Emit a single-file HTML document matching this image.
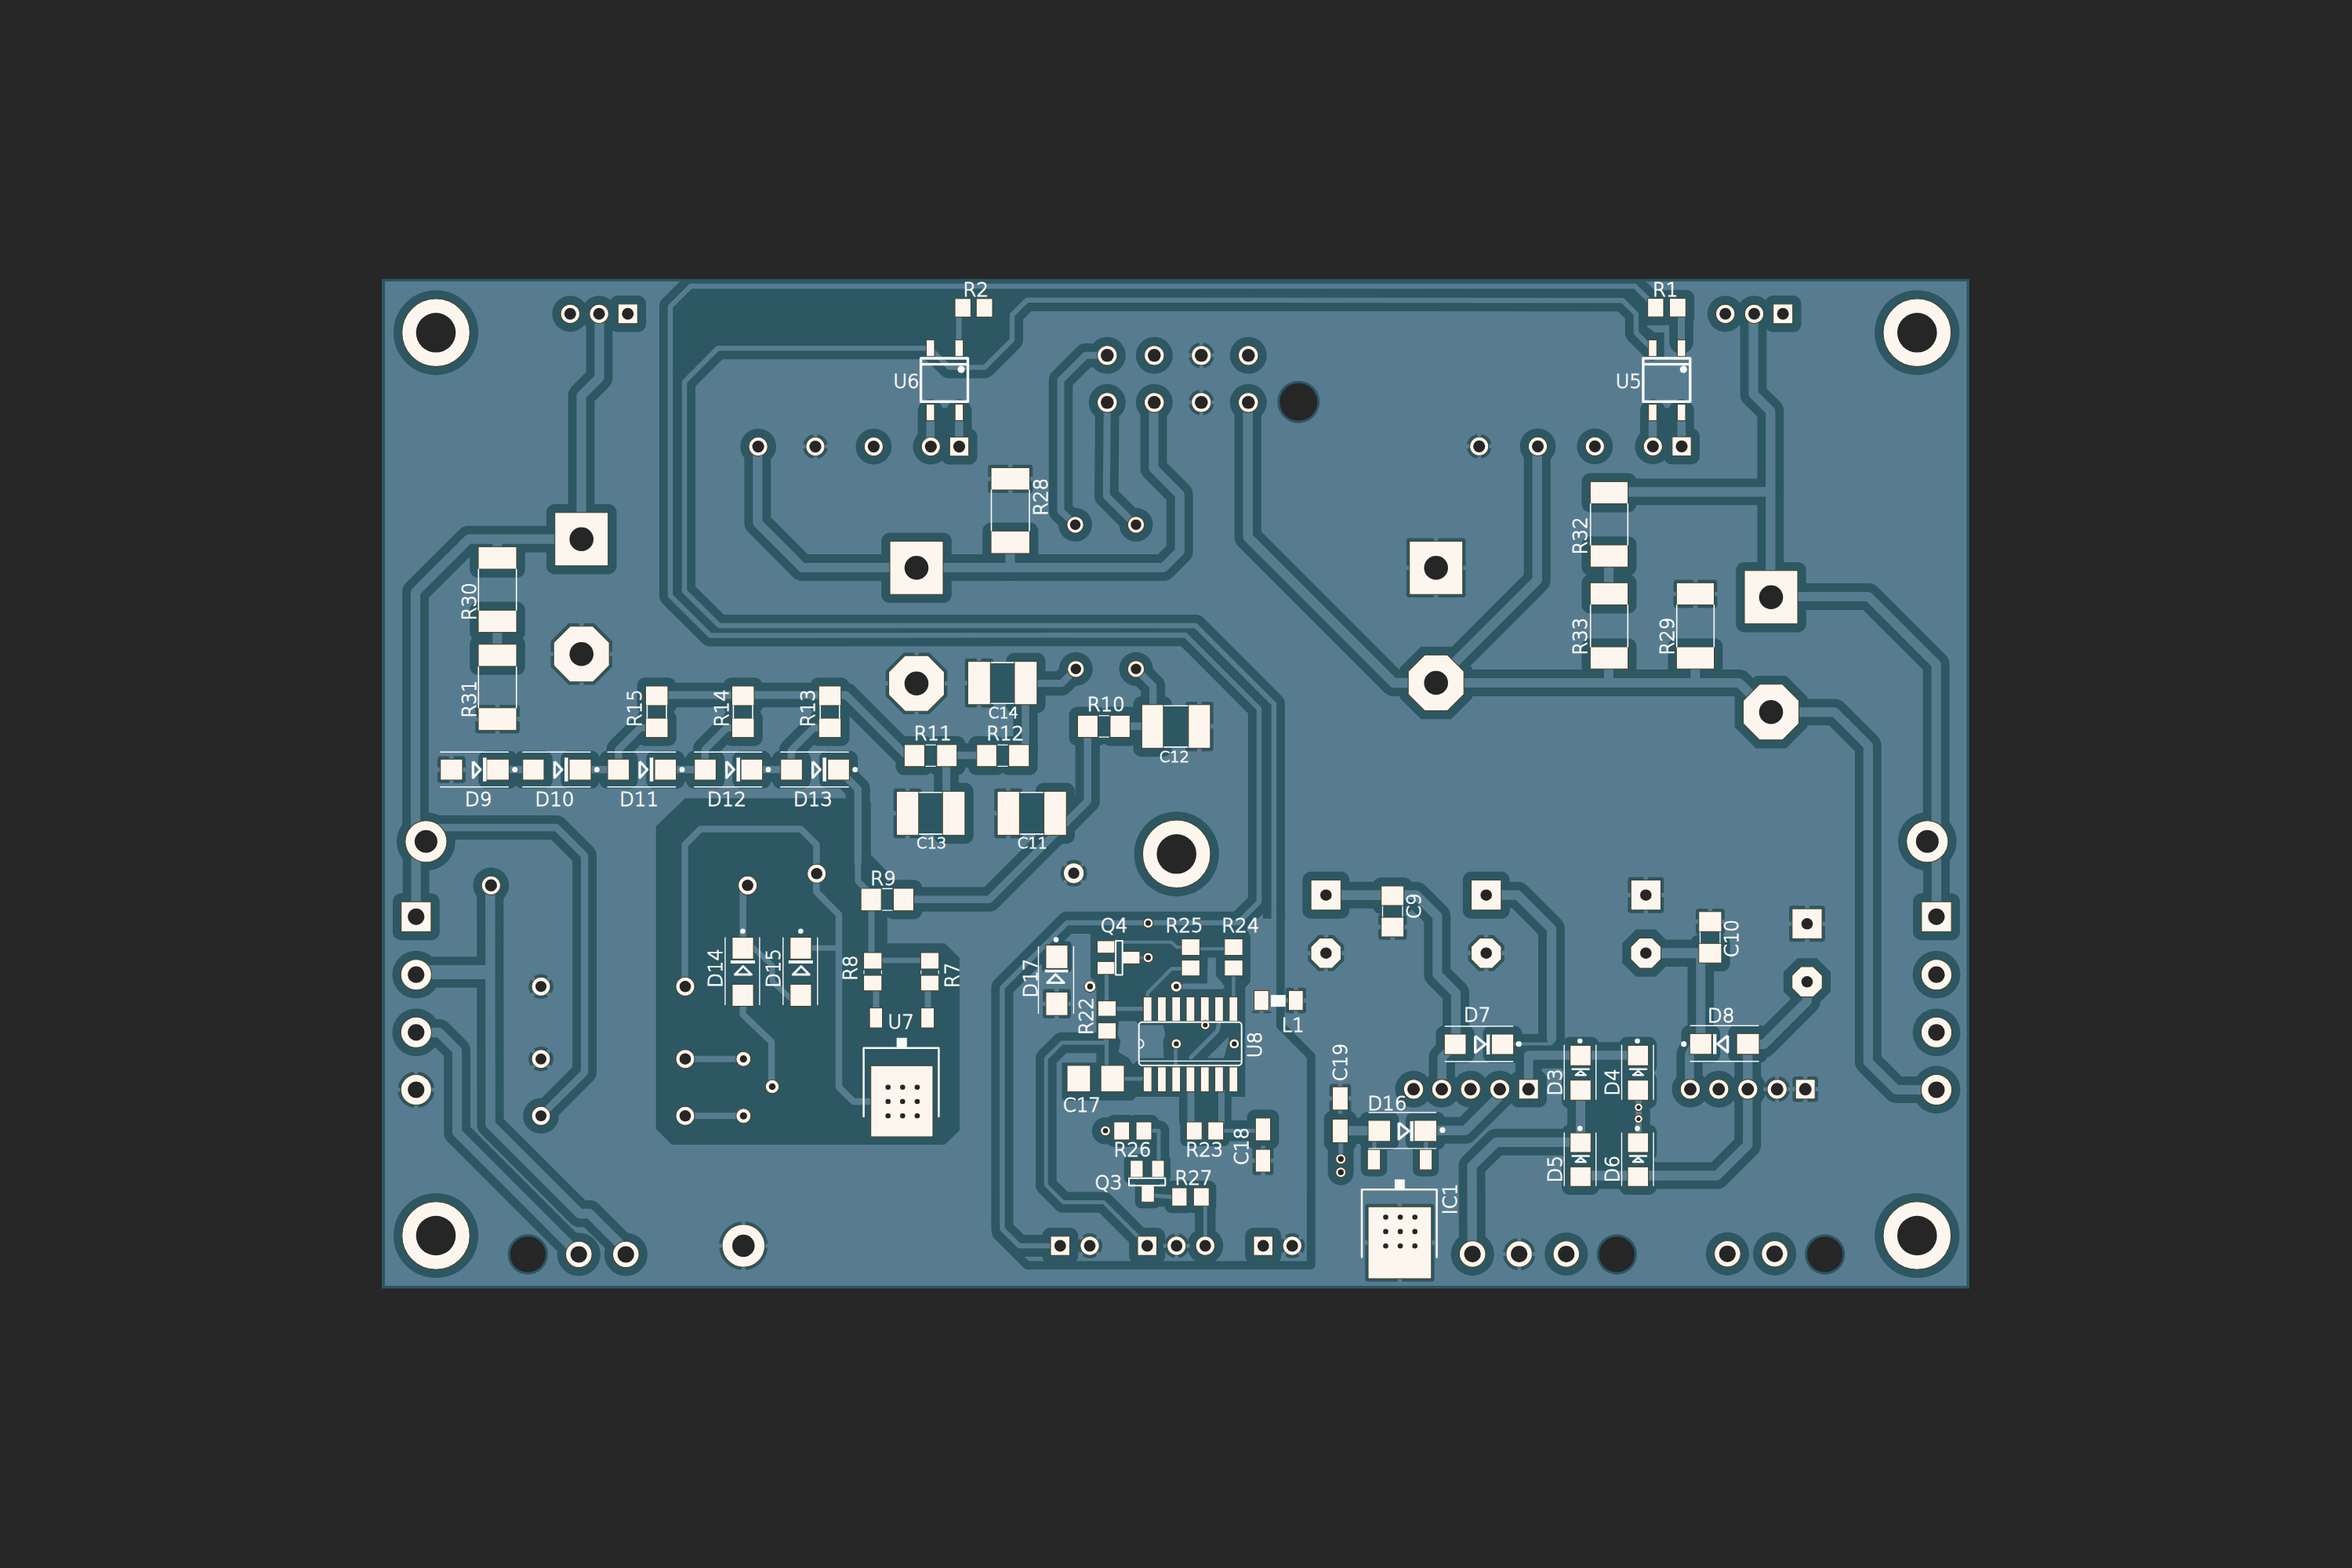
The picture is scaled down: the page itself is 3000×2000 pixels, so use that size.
<!DOCTYPE html>
<html><head><meta charset="utf-8"><title>PCB</title>
<style>html,body{margin:0;padding:0;background:#272727;}body{width:3000px;height:2000px;overflow:hidden;}svg{display:block;}</style>
</head><body>
<svg width="3000" height="2000" viewBox="0 0 3000 2000">
<rect width="3000" height="2000" fill="#272727"/>
<rect x="487" y="356" width="2025" height="1287.5" fill="#2c5763"/>
<rect x="491" y="359" width="2017.5" height="1281" fill="#587c8f"/>
<clipPath id="bd"><rect x="487" y="356" width="2025" height="1287.5"/></clipPath>
<g clip-path="url(#bd)">
<g fill="none" stroke="#2c5763" stroke-linecap="round" stroke-linejoin="round">
<circle cx="556" cy="424.3" r="54.1" stroke="none" fill="#2c5763"/>
<circle cx="2445.3" cy="424.3" r="54.1" stroke="none" fill="#2c5763"/>
<circle cx="556" cy="1576" r="54.1" stroke="none" fill="#2c5763"/>
<circle cx="2445.3" cy="1576" r="54.1" stroke="none" fill="#2c5763"/>
<circle cx="1500.7" cy="1089.3" r="54.1" stroke="none" fill="#2c5763"/>
<circle cx="727.3" cy="400.3" r="23" stroke="none" fill="#2c5763"/>
<circle cx="764.1" cy="400.3" r="23" stroke="none" fill="#2c5763"/>
<rect x="777.5" y="377" width="46.6" height="46.6" rx="10.8" stroke="none" fill="#2c5763"/>
<circle cx="2200.7" cy="400.3" r="23" stroke="none" fill="#2c5763"/>
<circle cx="2237.5" cy="400.3" r="23" stroke="none" fill="#2c5763"/>
<rect x="2250.9" y="377" width="46.6" height="46.6" rx="10.8" stroke="none" fill="#2c5763"/>
<rect x="696.9" y="642.9" width="89.6" height="89.6" rx="10.8" stroke="none" fill="#2c5763"/>
<rect x="1124.2" y="679.5" width="89.6" height="89.6" rx="10.8" stroke="none" fill="#2c5763"/>
<rect x="1793.9" y="686.5" width="75.6" height="75.6" rx="3.8" stroke="none" fill="#2c5763"/>
<rect x="2214.2" y="716.9" width="89.6" height="89.6" rx="10.8" stroke="none" fill="#2c5763"/>
<polygon points="725.4,795 758,795 781,818 781,850.6 758,873.6 725.4,873.6 702.4,850.6 702.4,818" stroke="none" fill="#2c5763"/>
<polygon points="1152.7,832.4 1185.3,832.4 1208.3,855.4 1208.3,888 1185.3,911 1152.7,911 1129.7,888 1129.7,855.4" stroke="none" fill="#2c5763"/>
<polygon points="1812.5,824.7 1850.9,824.7 1878,851.8 1878,890.2 1850.9,917.3 1812.5,917.3 1785.4,890.2 1785.4,851.8" stroke="none" fill="#2c5763"/>
<polygon points="2239.8,862 2278.2,862 2305.3,889.1 2305.3,927.5 2278.2,954.6 2239.8,954.6 2212.7,927.5 2212.7,889.1" stroke="none" fill="#2c5763"/>
<polyline points="764.5,400.3 764.5,481.7 741.5,504.7 741.5,687.7" stroke-width="33.8"/>
<polyline points="741.5,687.7 597.7,687.7 530,755.3 530,1060 543.4,1073.3" stroke-width="33.8"/>
<polyline points="530.6,1073 530.6,1169.3" stroke-width="33.8"/>
<polyline points="966.3,569.6 966.3,666.7 1023.3,724 1169,724" stroke-width="33.8"/>
<polyline points="1169,724 1484,724 1504.7,703.3 1504.7,630.7 1471.5,597.3 1471.5,513.3" stroke-width="33.8"/>
<polygon points="855,391 881,365 1330,365 1330,382.7 1310,382.7 1291,401.6 1291,433.5 1256,468.4 1210.5,468.4 1186,444.3 915.5,444.3 873,487 873,700 855,700" stroke="none" fill="#2c5763"/>
<polyline points="1352.3,1589 1300,1589 1278.4,1567.5 1278.4,1259.7 1361.2,1176.9 1579.6,1176.9 1606,1150.4 1606,904 1512,810 906,810.5 855,760 855,391 881,365 2085.2,365 2103,382.5 2110,392" stroke-width="28.1"/>
<polyline points="1624.9,1173 1624.9,897.9 1525,798 917.5,798 873,754 873,487 915.5,444.3 1186,444.3 1210.5,468.4 1256,468.4 1291,433.5 1291,401.6 1310,382.7 2069.6,383.3 2086.9,400.5 2086.9,424.6 2103.6,441.4 2107.4,446" stroke-width="28.1"/>
<circle cx="967.1" cy="569.6" r="22.9" stroke="none" fill="#2c5763"/>
<circle cx="1040" cy="569.6" r="15.9" stroke="none" fill="#2c5763"/>
<circle cx="1114.4" cy="569.6" r="22.9" stroke="none" fill="#2c5763"/>
<circle cx="1187.3" cy="569.6" r="22.9" stroke="none" fill="#2c5763"/>
<rect x="1200.5" y="546.6" width="46" height="46" rx="10.8" stroke="none" fill="#2c5763"/>
<circle cx="1886.7" cy="569.3" r="15.9" stroke="none" fill="#2c5763"/>
<circle cx="1961.5" cy="569.3" r="22.9" stroke="none" fill="#2c5763"/>
<circle cx="2034.3" cy="569.3" r="22.9" stroke="none" fill="#2c5763"/>
<circle cx="2108.3" cy="569.3" r="22.9" stroke="none" fill="#2c5763"/>
<rect x="2122" y="546.3" width="46" height="46" rx="10.8" stroke="none" fill="#2c5763"/>
<polyline points="1186.7,525 1186.7,569.6" stroke-width="32.2"/>
<polyline points="1223.4,525 1223.4,569.6" stroke-width="32.2"/>
<polyline points="1205,530 1205,560" stroke-width="20"/>
<polyline points="2108,525 2108,569.6" stroke-width="32.2"/>
<polyline points="2144.7,525 2144.7,569.6" stroke-width="32.2"/>
<polyline points="2126.3,530 2126.3,560" stroke-width="20"/>
<polygon points="2100,416 2111,424 2122.7,424 2122.7,456 2098,456 2098,416" stroke="none" fill="#2c5763"/>
<rect x="2090.8" y="369.7" width="42" height="45.3" rx="10.8" stroke="none" fill="#2c5763"/>
<rect x="2118.7" y="369.7" width="42.4" height="45.3" rx="10.8" stroke="none" fill="#2c5763"/>
<polyline points="2144.5,404 2144.5,436" stroke-width="30.6"/>
<rect x="1260.2" y="592.7" width="57.1" height="36.1" rx="3.8" stroke="none" fill="#2c5763"/>
<rect x="1253.2" y="666.5" width="71.1" height="50.3" rx="10.8" stroke="none" fill="#2c5763"/>
<polyline points="1288.5,700 1288.5,724" stroke-width="33.6"/>
<rect x="599.2" y="686.5" width="70.6" height="50.3" rx="10.8" stroke="none" fill="#2c5763"/>
<rect x="599.2" y="767.5" width="70.6" height="49.9" rx="10.8" stroke="none" fill="#2c5763"/>
<rect x="599.2" y="810.9" width="70.6" height="49.9" rx="10.8" stroke="none" fill="#2c5763"/>
<rect x="606.2" y="898.9" width="56.6" height="36.6" rx="3.8" stroke="none" fill="#2c5763"/>
<polyline points="634.3,793.3 634.3,836.7" stroke-width="33.6"/>
<polyline points="634.3,706.7 634.3,687.7" stroke-width="33.6"/>
<circle cx="1412.3" cy="453.3" r="23.5" stroke="none" fill="#2c5763"/>
<circle cx="1472.3" cy="453.3" r="23.5" stroke="none" fill="#2c5763"/>
<circle cx="1532.3" cy="453.3" r="16.5" stroke="none" fill="#2c5763"/>
<circle cx="1592.3" cy="453.3" r="23.5" stroke="none" fill="#2c5763"/>
<circle cx="1412.3" cy="513.3" r="23.5" stroke="none" fill="#2c5763"/>
<circle cx="1472.3" cy="513.3" r="23.5" stroke="none" fill="#2c5763"/>
<circle cx="1532.3" cy="513.3" r="16.5" stroke="none" fill="#2c5763"/>
<circle cx="1592.3" cy="513.3" r="23.5" stroke="none" fill="#2c5763"/>
<circle cx="1656.3" cy="512.7" r="27" stroke="none" fill="#2c5763"/>
<circle cx="1371.5" cy="669.3" r="21.5" stroke="none" fill="#2c5763"/>
<circle cx="1449" cy="669.3" r="21.5" stroke="none" fill="#2c5763"/>
<circle cx="1372.3" cy="853.3" r="21.5" stroke="none" fill="#2c5763"/>
<circle cx="1449" cy="853.3" r="21.5" stroke="none" fill="#2c5763"/>
<polyline points="1412.3,453.3 1384.7,453.3 1353,485 1353,651.7 1371.5,669.3" stroke-width="30.6"/>
<polyline points="1412.3,513.3 1411.3,632.7 1448,669.3" stroke-width="30.6"/>
<polyline points="1591.7,513.3 1591.7,685 1777.7,871 1831.7,871" stroke-width="34.1"/>
<polyline points="1960.7,569.3 1960.7,740 1831.7,869" stroke-width="34.1"/>
<polyline points="2236.5,400.3 2236.5,502.7 2258.3,524.3 2258.3,761.7" stroke-width="33.8"/>
<polyline points="2076.7,627.3 2258.3,627.3" stroke-width="33.8"/>
<polyline points="2259,761 2383.3,761 2469.7,847.4 2469.7,1060 2458.3,1073.3" stroke-width="33.8"/>
<polyline points="2470,1073 2470,1169.3" stroke-width="33.8"/>
<rect x="2017.5" y="603.5" width="69.9" height="49.9" rx="10.8" stroke="none" fill="#2c5763"/>
<rect x="2017.5" y="684.2" width="69.9" height="49.9" rx="10.8" stroke="none" fill="#2c5763"/>
<rect x="2017.5" y="732.5" width="69.9" height="49.9" rx="10.8" stroke="none" fill="#2c5763"/>
<rect x="2017.5" y="814.2" width="69.9" height="49.9" rx="10.8" stroke="none" fill="#2c5763"/>
<rect x="2134.5" y="739.5" width="55.9" height="35.9" rx="3.8" stroke="none" fill="#2c5763"/>
<rect x="2127.5" y="814.2" width="69.9" height="49.9" rx="10.8" stroke="none" fill="#2c5763"/>
<polyline points="2052,710 2052,756.7" stroke-width="33.6"/>
<polyline points="2052,840 2052,871" stroke-width="33.6"/>
<polyline points="2162.3,840 2162.3,871" stroke-width="33.6"/>
<polyline points="1831.7,871 2218.3,871 2255,907.7" stroke-width="33.8"/>
<polyline points="2259,908.3 2340,908.3 2382.8,951 2382.8,1354.3 2418.7,1390 2470,1390" stroke-width="33.8"/>
<circle cx="543.4" cy="1073.3" r="37.4" stroke="none" fill="#2c5763"/>
<circle cx="2458.3" cy="1073.3" r="37.4" stroke="none" fill="#2c5763"/>
<rect x="500.9" y="1139.4" width="59.8" height="59.8" rx="10.8" stroke="none" fill="#2c5763"/>
<circle cx="530.8" cy="1243.2" r="30.4" stroke="none" fill="#2c5763"/>
<circle cx="530.8" cy="1316.8" r="30.4" stroke="none" fill="#2c5763"/>
<rect x="2440.1" y="1139.4" width="59.8" height="59.8" rx="10.8" stroke="none" fill="#2c5763"/>
<circle cx="2470" cy="1243.2" r="30.4" stroke="none" fill="#2c5763"/>
<circle cx="2470" cy="1316.8" r="30.4" stroke="none" fill="#2c5763"/>
<circle cx="530.8" cy="1390" r="23.4" stroke="none" fill="#2c5763"/>
<circle cx="2470" cy="1390" r="30.4" stroke="none" fill="#2c5763"/>
<polyline points="543.4,1073.3 560,1055.5 709.6,1055.5 745.6,1091.5 745.6,1367.7 690,1423.3" stroke-width="30.9"/>
<circle cx="626.3" cy="1129.3" r="22.9" stroke="none" fill="#2c5763"/>
<polyline points="625.3,1129.3 625.5,1434.2 739.6,1548.1 752,1548.1 798.3,1594.4 798.3,1600" stroke-width="34.1"/>
<polyline points="531,1240 621,1240" stroke-width="39.6"/>
<polyline points="531,1316.8 560,1316.8 583.1,1340 583.1,1444.4 738.3,1599.6" stroke-width="33.8"/>
<circle cx="690" cy="1258.3" r="15.8" stroke="none" fill="#2c5763"/>
<circle cx="690" cy="1350.7" r="15.8" stroke="none" fill="#2c5763"/>
<circle cx="690" cy="1423.3" r="22.8" stroke="none" fill="#2c5763"/>
<circle cx="673.3" cy="1600" r="25.7" stroke="none" fill="#2c5763"/>
<circle cx="738.3" cy="1600" r="27.6" stroke="none" fill="#2c5763"/>
<circle cx="798.3" cy="1600" r="27.6" stroke="none" fill="#2c5763"/>
<circle cx="948.3" cy="1589" r="31.1" stroke="none" fill="#2c5763"/>
<rect x="812.6" y="864.2" width="50.2" height="46.6" rx="10.8" stroke="none" fill="#2c5763"/>
<rect x="812.6" y="905.2" width="50.2" height="46.3" rx="10.8" stroke="none" fill="#2c5763"/>
<rect x="922.6" y="864.2" width="50.2" height="46.6" rx="10.8" stroke="none" fill="#2c5763"/>
<rect x="922.6" y="905.2" width="50.2" height="46.3" rx="10.8" stroke="none" fill="#2c5763"/>
<rect x="1033.4" y="864.2" width="50.2" height="46.6" rx="10.8" stroke="none" fill="#2c5763"/>
<rect x="1033.4" y="905.2" width="50.2" height="46.3" rx="10.8" stroke="none" fill="#2c5763"/>
<polyline points="837,886.5 1079,886.5 1153.5,961 1166,963.7" stroke-width="31.6"/>
<polyline points="837.3,928.3 816.7,928.3 789,956 789,981.7" stroke-width="30.9"/>
<polyline points="947.7,928.3 927,928.3 899.3,956 899.3,981.7" stroke-width="30.9"/>
<polyline points="1058.7,928.3 1038,928.3 1009.3,957 1009.3,981.7" stroke-width="30.9"/>
<rect x="557.9" y="964.5" width="35.9" height="34.3" rx="3.8" stroke="none" fill="#2c5763"/>
<rect x="609.9" y="957.5" width="50.3" height="48.3" rx="10.8" stroke="none" fill="#2c5763"/>
<rect x="655.9" y="957.5" width="48.9" height="48.3" rx="10.8" stroke="none" fill="#2c5763"/>
<rect x="715.2" y="957.5" width="49.6" height="48.3" rx="10.8" stroke="none" fill="#2c5763"/>
<rect x="764.2" y="957.5" width="49.3" height="48.3" rx="10.8" stroke="none" fill="#2c5763"/>
<rect x="824.2" y="957.5" width="49.3" height="48.3" rx="10.8" stroke="none" fill="#2c5763"/>
<rect x="874.9" y="957.5" width="49.3" height="48.3" rx="10.8" stroke="none" fill="#2c5763"/>
<rect x="934.2" y="957.5" width="49.3" height="48.3" rx="10.8" stroke="none" fill="#2c5763"/>
<rect x="984.9" y="957.5" width="49.3" height="48.3" rx="10.8" stroke="none" fill="#2c5763"/>
<rect x="1044.9" y="957.5" width="49.3" height="48.3" rx="10.8" stroke="none" fill="#2c5763"/>
<polyline points="634,981.7 680,981.7" stroke-width="30.9"/>
<polyline points="739.3,981.7 788.3,981.7" stroke-width="30.9"/>
<polyline points="848.3,981.7 899,981.7" stroke-width="30.9"/>
<polyline points="958.3,981.7 1009,981.7" stroke-width="30.9"/>
<polyline points="1069.5,981.7 1094.3,1006.5 1094.3,1100" stroke-width="31.1"/>
<rect x="1142.5" y="938.9" width="47.8" height="49.7" rx="10.8" stroke="none" fill="#2c5763"/>
<rect x="1184" y="938.9" width="47.5" height="49.7" rx="10.8" stroke="none" fill="#2c5763"/>
<polyline points="1179.5,963.8 1194.8,963.8" stroke-width="26.1"/>
<rect x="1235" y="938.9" width="47.1" height="49.7" rx="10.8" stroke="none" fill="#2c5763"/>
<rect x="1275.8" y="938.9" width="47.8" height="49.7" rx="10.8" stroke="none" fill="#2c5763"/>
<polyline points="1271.3,963.8 1286.6,963.8" stroke-width="26.1"/>
<rect x="1363.6" y="901.5" width="47.6" height="49.9" rx="10.8" stroke="none" fill="#2c5763"/>
<rect x="1405.1" y="901.5" width="47.1" height="49.9" rx="10.8" stroke="none" fill="#2c5763"/>
<polyline points="1400.4,926.5 1415.9,926.5" stroke-width="26.3"/>
<rect x="1087.3" y="1122.2" width="47.7" height="50.3" rx="10.8" stroke="none" fill="#2c5763"/>
<rect x="1128.7" y="1122.2" width="47.6" height="50.3" rx="10.8" stroke="none" fill="#2c5763"/>
<polyline points="1124.2,1147.3 1139.5,1147.3" stroke-width="26.7"/>
<rect x="1230.6" y="839.8" width="36.5" height="62.8" rx="3.8" stroke="none" fill="#2c5763"/>
<rect x="1283.1" y="832.8" width="50.5" height="76.8" rx="10.8" stroke="none" fill="#2c5763"/>
<polyline points="1263.3,871.2 1293.9,871.2" stroke-width="53.2"/>
<rect x="1445.5" y="887.9" width="49.2" height="77.3" rx="10.8" stroke="none" fill="#2c5763"/>
<rect x="1512" y="894.9" width="35.7" height="63.3" rx="3.8" stroke="none" fill="#2c5763"/>
<polyline points="1483.9,926.5 1515.8,926.5" stroke-width="53.7"/>
<rect x="1139.6" y="1005.5" width="36" height="63.7" rx="3.8" stroke="none" fill="#2c5763"/>
<rect x="1191.4" y="998.5" width="50.3" height="77.7" rx="10.8" stroke="none" fill="#2c5763"/>
<polyline points="1171.8,1037.3 1202.2,1037.3" stroke-width="54.1"/>
<rect x="1268.2" y="1005.5" width="36" height="63.7" rx="3.8" stroke="none" fill="#2c5763"/>
<rect x="1320.7" y="998.5" width="50.3" height="77.7" rx="10.8" stroke="none" fill="#2c5763"/>
<polyline points="1300.4,1037.3 1331.5,1037.3" stroke-width="54.1"/>
<polyline points="1165.5,1147.2 1261.8,1147.2 1387.2,1021.8 1387.2,930" stroke-width="31.2"/>
<polyline points="1207,963.5 1258,963.5" stroke-width="31.2"/>
<polyline points="1207.1,965 1207.1,1020" stroke-width="31.6"/>
<polyline points="1430,926.3 1470,926.3" stroke-width="31.2"/>
<polyline points="1308,890 1308,960" stroke-width="31.2"/>
<polyline points="1372.3,853.3 1354,871.7 1310,871.7" stroke-width="30.9"/>
<polyline points="1449,853.3 1470.7,875 1470.7,910" stroke-width="30.9"/>
<circle cx="1369.6" cy="1113.8" r="17" stroke="none" fill="#2c5763"/>
<polygon points="836.7,1054 874,1018.3 1105,1018.3 1110.8,1024 1110.8,1090.5 1131.7,1111.4 1131.7,1203.3 1205,1203.3 1224,1221.7 1224,1441.7 1205,1460 856.7,1460 836.7,1440" stroke="none" fill="#2c5763"/>
<rect x="1661.3" y="1111.8" width="59.9" height="59.9" rx="10.8" stroke="none" fill="#2c5763"/>
<rect x="1865.8" y="1111.8" width="59.9" height="59.9" rx="10.8" stroke="none" fill="#2c5763"/>
<rect x="2076.3" y="1118.8" width="45.9" height="45.9" rx="3.8" stroke="none" fill="#2c5763"/>
<rect x="2282" y="1155.3" width="45.9" height="45.9" rx="3.8" stroke="none" fill="#2c5763"/>
<polygon points="1681.7,1192.6 1700.9,1192.6 1714.4,1206.1 1714.4,1225.3 1700.9,1238.8 1681.7,1238.8 1668.2,1225.3 1668.2,1206.1" stroke="none" fill="#2c5763"/>
<polygon points="1886.1,1192.6 1905.3,1192.6 1918.8,1206.1 1918.8,1225.3 1905.3,1238.8 1886.1,1238.8 1872.6,1225.3 1872.6,1206.1" stroke="none" fill="#2c5763"/>
<polygon points="2086.8,1185.6 2111.8,1185.6 2129.4,1203.2 2129.4,1228.2 2111.8,1245.8 2086.8,1245.8 2069.2,1228.2 2069.2,1203.2" stroke="none" fill="#2c5763"/>
<polygon points="2292.5,1222.2 2317.5,1222.2 2335.1,1239.8 2335.1,1264.8 2317.5,1282.4 2292.5,1282.4 2274.9,1264.8 2274.9,1239.8" stroke="none" fill="#2c5763"/>
<rect x="1750.9" y="1119.2" width="50.6" height="46.6" rx="10.8" stroke="none" fill="#2c5763"/>
<rect x="1757.9" y="1166.2" width="36.6" height="32.6" rx="3.8" stroke="none" fill="#2c5763"/>
<polyline points="1691.3,1141.7 1776,1141.7" stroke-width="34.1"/>
<polyline points="1776,1141.7 1806.3,1141.7 1833.3,1168.7 1833.3,1242.9 1857,1266.6 1857,1331.7" stroke-width="33.9"/>
<polyline points="1895.7,1141.7 1935.9,1141.7 1979,1184.8 1979,1325" stroke-width="33.8"/>
<polyline points="1979,1325 1979,1331.5 1930,1331.5" stroke-width="25.6"/>
<rect x="2162.9" y="1158.9" width="36.9" height="33.2" rx="3.8" stroke="none" fill="#2c5763"/>
<rect x="2155.9" y="1192.5" width="50.9" height="46.6" rx="10.8" stroke="none" fill="#2c5763"/>
<polyline points="2099.3,1215.7 2181,1215.7" stroke-width="34.6"/>
<polyline points="2169.3,1215 2169.3,1325" stroke-width="33.6"/>
<rect x="1831.5" y="1308.2" width="49.3" height="47.6" rx="10.8" stroke="none" fill="#2c5763"/>
<rect x="1891.5" y="1308.2" width="50" height="47.6" rx="10.8" stroke="none" fill="#2c5763"/>
<rect x="2144.4" y="1307.5" width="49.7" height="48.1" rx="10.8" stroke="none" fill="#2c5763"/>
<rect x="2204.3" y="1307.5" width="50.5" height="48.1" rx="10.8" stroke="none" fill="#2c5763"/>
<rect x="1734.2" y="1418.2" width="50.2" height="48.5" rx="10.8" stroke="none" fill="#2c5763"/>
<rect x="1792.9" y="1418.2" width="50.5" height="48.5" rx="10.8" stroke="none" fill="#2c5763"/>
<circle cx="1803" cy="1389.3" r="23.5" stroke="none" fill="#2c5763"/>
<circle cx="1839" cy="1389.3" r="23.5" stroke="none" fill="#2c5763"/>
<circle cx="1875.7" cy="1389.3" r="23.5" stroke="none" fill="#2c5763"/>
<circle cx="1913" cy="1389.3" r="23.5" stroke="none" fill="#2c5763"/>
<rect x="1926.4" y="1366" width="46.6" height="46.6" rx="10.8" stroke="none" fill="#2c5763"/>
<circle cx="2156" cy="1389.3" r="23.5" stroke="none" fill="#2c5763"/>
<circle cx="2192.3" cy="1389.3" r="23.5" stroke="none" fill="#2c5763"/>
<circle cx="2229.3" cy="1389.3" r="23.5" stroke="none" fill="#2c5763"/>
<circle cx="2266.7" cy="1389.3" r="16.5" stroke="none" fill="#2c5763"/>
<rect x="2286.4" y="1373" width="32.6" height="32.6" rx="3.8" stroke="none" fill="#2c5763"/>
<polyline points="1850,1338 1839.2,1349 1839.2,1389.3" stroke-width="33.3"/>
<polyline points="1819,1441.8 1869,1441.8 1913.4,1397.4 1913.4,1389.3" stroke-width="33.9"/>
<polyline points="2160,1335 2155,1345 2155,1389.3" stroke-width="33.3"/>
<polyline points="2229,1332 2250,1332 2305,1277 2305,1252.3" stroke-width="33.6"/>
<polyline points="2229.3,1340 2229.3,1460.3 2190,1499.5 2016,1499.5" stroke-width="33.9"/>
<rect x="1695.7" y="1382.4" width="27.6" height="37.3" rx="3.8" stroke="none" fill="#2c5763"/>
<rect x="1688.7" y="1416.7" width="41.6" height="51.7" rx="10.8" stroke="none" fill="#2c5763"/>
<polyline points="1709.5,1442.3 1760,1442.3" stroke-width="33.6"/>
<polyline points="1710.2,1470 1710.2,1495.3" stroke-width="33"/>
<rect x="1735.7" y="1457.6" width="33.5" height="43" rx="8.5" stroke="none" fill="#2c5763"/>
<rect x="1802" y="1457.6" width="33.2" height="43" rx="8.5" stroke="none" fill="#2c5763"/>
<polyline points="1753,1450 1753,1475" stroke-width="21"/>
<polyline points="1819,1450 1819,1475" stroke-width="21"/>
<rect x="1741.2" y="1535.4" width="88.4" height="99.4" rx="3.8" stroke="none" fill="#2c5763"/>
<circle cx="1878.2" cy="1599.6" r="27.6" stroke="none" fill="#2c5763"/>
<circle cx="1937.7" cy="1599.6" r="20.6" stroke="none" fill="#2c5763"/>
<circle cx="1997.8" cy="1599.6" r="27.6" stroke="none" fill="#2c5763"/>
<circle cx="2062.3" cy="1600" r="25.7" stroke="none" fill="#2c5763"/>
<circle cx="2203.4" cy="1599.3" r="27.6" stroke="none" fill="#2c5763"/>
<circle cx="2263.6" cy="1599.3" r="27.6" stroke="none" fill="#2c5763"/>
<circle cx="2327.7" cy="1600" r="25.7" stroke="none" fill="#2c5763"/>
<polyline points="1877.8,1600 1877.5,1487.4 1908.5,1456.8 2010,1456.8" stroke-width="33.9"/>
<rect x="1991.9" y="1322.5" width="48.2" height="47.6" rx="10.8" stroke="none" fill="#2c5763"/>
<rect x="1991.9" y="1366.9" width="48.2" height="47.2" rx="10.8" stroke="none" fill="#2c5763"/>
<rect x="1991.9" y="1434.2" width="48.2" height="46.6" rx="10.8" stroke="none" fill="#2c5763"/>
<rect x="1991.9" y="1477.5" width="48.2" height="46.6" rx="10.8" stroke="none" fill="#2c5763"/>
<rect x="2065.2" y="1322.5" width="48.2" height="47.6" rx="10.8" stroke="none" fill="#2c5763"/>
<rect x="2065.2" y="1366.9" width="48.2" height="47.2" rx="10.8" stroke="none" fill="#2c5763"/>
<rect x="2065.2" y="1434.2" width="48.2" height="46.6" rx="10.8" stroke="none" fill="#2c5763"/>
<rect x="2065.2" y="1477.5" width="48.2" height="46.6" rx="10.8" stroke="none" fill="#2c5763"/>
<polygon points="2029.8,1352 2076,1352 2076,1405 2104,1405 2104,1444 2076,1444 2076,1514 2029.8,1514 2029.8,1444 2003,1444 2003,1405 2029.8,1405" stroke="none" fill="#2c5763"/>
<polyline points="2016,1395 2016,1452" stroke-width="33.6"/>
<polyline points="2090,1395 2090,1452" stroke-width="29.6"/>
<polyline points="1949.7,1389.3 1949.7,1346 2089,1346" stroke-width="33.3"/>
<polyline points="1633.3,1160 1633.3,1308 1672.3,1347 1672.3,1613.8 1310,1613.8 1271.2,1575 1271.2,1560" stroke-width="10.8"/>
<polyline points="1411,1322 1411,1330 1354.5,1330 1334.3,1350 1334.3,1511.6 1356.2,1533.5 1407.8,1533.5 1463.3,1589" stroke-width="26.6"/>
<polygon points="1391,1186.8 1594.9,1186.8 1594.9,1252.3 1588.3,1259.7 1588.3,1399.1 1449,1399.1 1444.3,1403.8 1357.3,1403.8 1354.5,1401 1354.5,1355.2 1398.4,1355.2 1398.4,1254.1 1391,1246.6" stroke="none" fill="#2c5763"/>
<rect x="1328.9" y="1200.5" width="38.1" height="39.9" rx="5" stroke="none" fill="#2c5763"/>
<rect x="1330.1" y="1261.6" width="35.7" height="37.5" rx="3.8" stroke="none" fill="#2c5763"/>
<polyline points="1402.2,1300.5 1421.8,1300.5" stroke-width="8"/>
<polyline points="1500.4,1331.4 1500.4,1331.6" stroke-width="34"/>
<rect x="1595.8" y="1259.7" width="26.3" height="32.9" rx="3.8" stroke="none" fill="#2c5763"/>
<rect x="1639.7" y="1259.7" width="26.3" height="32.9" rx="3.8" stroke="none" fill="#2c5763"/>
<polygon points="1504,1390 1570.7,1390 1570.7,1433.3 1504,1433.3" stroke="none" fill="#2c5763"/>
<rect x="1505.3" y="1423" width="36" height="39" rx="8" stroke="none" fill="#2c5763"/>
<rect x="1532.7" y="1423" width="36" height="39" rx="8" stroke="none" fill="#2c5763"/>
<polyline points="1560.7,1442.3 1601.3,1442.3" stroke-width="26.6"/>
<rect x="1590.5" y="1415.2" width="40.9" height="50.6" rx="10.8" stroke="none" fill="#2c5763"/>
<rect x="1597.5" y="1462.2" width="26.9" height="36.6" rx="3.8" stroke="none" fill="#2c5763"/>
<rect x="1411.7" y="1422" width="38" height="41" rx="9" stroke="none" fill="#2c5763"/>
<rect x="1440" y="1422" width="38" height="41" rx="9" stroke="none" fill="#2c5763"/>
<circle cx="1410" cy="1442.3" r="17.2" stroke="none" fill="#2c5763"/>
<polyline points="1469,1442.3 1478,1442.3 1478,1481.7" stroke-width="26.6"/>
<rect x="1433.7" y="1472" width="32.3" height="37.7" rx="8" stroke="none" fill="#2c5763"/>
<rect x="1461" y="1472" width="32" height="37.7" rx="8" stroke="none" fill="#2c5763"/>
<rect x="1447.7" y="1504.3" width="32.7" height="37" rx="8" stroke="none" fill="#2c5763"/>
<rect x="1485.7" y="1506" width="37.3" height="41.3" rx="9" stroke="none" fill="#2c5763"/>
<rect x="1513.3" y="1506" width="38" height="41.3" rx="9" stroke="none" fill="#2c5763"/>
<polyline points="1472.3,1525 1494.7,1526.7" stroke-width="26.6"/>
<polyline points="1537.3,1530 1537.3,1589" stroke-width="26.3"/>
<rect x="1329.2" y="1566" width="46.1" height="46.1" rx="10.8" stroke="none" fill="#2c5763"/>
<circle cx="1390" cy="1589" r="16" stroke="none" fill="#2c5763"/>
<rect x="1440.2" y="1566" width="46.1" height="46.1" rx="10.8" stroke="none" fill="#2c5763"/>
<circle cx="1500.7" cy="1589" r="16" stroke="none" fill="#2c5763"/>
<circle cx="1537.3" cy="1589" r="23" stroke="none" fill="#2c5763"/>
<rect x="1588.2" y="1566" width="46.1" height="46.1" rx="10.8" stroke="none" fill="#2c5763"/>
<circle cx="1648.3" cy="1589" r="16" stroke="none" fill="#2c5763"/>
</g>
<g fill="none" stroke="#587c8f" stroke-linecap="round" stroke-linejoin="round">
<line x1="1792.9" y1="724.3" x2="1870.5" y2="724.3" stroke-width="5.6" stroke-linecap="butt"/>
<line x1="1831.7" y1="685.5" x2="1831.7" y2="763.1" stroke-width="5.6" stroke-linecap="butt"/>
<line x1="701.2" y1="834.3" x2="782.2" y2="834.3" stroke-width="5.6" stroke-linecap="butt"/>
<line x1="741.7" y1="793.8" x2="741.7" y2="874.8" stroke-width="5.6" stroke-linecap="butt"/>
<line x1="1128.5" y1="871.7" x2="1209.5" y2="871.7" stroke-width="5.6" stroke-linecap="butt"/>
<line x1="1169" y1="831.2" x2="1169" y2="912.2" stroke-width="5.6" stroke-linecap="butt"/>
<polyline points="764.5,400.3 764.5,481.7 741.5,504.7 741.5,687.7" stroke-width="12.2"/>
<polyline points="741.5,687.7 597.7,687.7 530,755.3 530,1060 543.4,1073.3" stroke-width="12.2"/>
<polyline points="530.6,1073 530.6,1169.3" stroke-width="12.2"/>
<polyline points="966.3,569.6 966.3,666.7 1023.3,724 1169,724" stroke-width="12.2"/>
<polyline points="1169,724 1484,724 1504.7,703.3 1504.7,630.7 1471.5,597.3 1471.5,513.3" stroke-width="12.2"/>
<polyline points="1352.3,1589 1300,1589 1278.4,1567.5 1278.4,1259.7 1361.2,1176.9 1579.6,1176.9 1606,1150.4 1606,904 1512,810 906,810.5 855,760 855,391 881,365 2085.2,365 2103,382.5 2110,392" stroke-width="6.5"/>
<polyline points="1624.9,1173 1624.9,897.9 1525,798 917.5,798 873,754 873,487 915.5,444.3 1186,444.3 1210.5,468.4 1256,468.4 1291,433.5 1291,401.6 1310,382.7 2069.6,383.3 2086.9,400.5 2086.9,424.6 2103.6,441.4 2107.4,446" stroke-width="6.5"/>
<line x1="1023.1" y1="569.6" x2="1056.9" y2="569.6" stroke-width="5" stroke-linecap="butt"/>
<line x1="1040" y1="552.7" x2="1040" y2="586.5" stroke-width="5" stroke-linecap="butt"/>
<line x1="1869.8" y1="569.3" x2="1903.6" y2="569.3" stroke-width="5" stroke-linecap="butt"/>
<line x1="1886.7" y1="552.4" x2="1886.7" y2="586.2" stroke-width="5" stroke-linecap="butt"/>
<polyline points="1186.7,525 1186.7,569.6" stroke-width="10.6"/>
<polyline points="1223.4,525 1223.4,569.6" stroke-width="10.6"/>
<polyline points="2108,525 2108,569.6" stroke-width="10.6"/>
<polyline points="2144.7,525 2144.7,569.6" stroke-width="10.6"/>
<polyline points="1223,404 1223,436" stroke-width="7"/>
<polyline points="2144.5,404 2144.5,436" stroke-width="9"/>
<line x1="1259.2" y1="610.8" x2="1318.3" y2="610.8" stroke-width="5.6" stroke-linecap="butt"/>
<line x1="1288.8" y1="591.7" x2="1288.8" y2="629.8" stroke-width="5.6" stroke-linecap="butt"/>
<polyline points="1288.5,700 1288.5,724" stroke-width="12"/>
<line x1="605.2" y1="917.2" x2="663.8" y2="917.2" stroke-width="5.6" stroke-linecap="butt"/>
<line x1="634.5" y1="897.9" x2="634.5" y2="936.5" stroke-width="5.6" stroke-linecap="butt"/>
<polyline points="634.3,793.3 634.3,836.7" stroke-width="12"/>
<polyline points="634.3,706.7 634.3,687.7" stroke-width="12"/>
<line x1="1514.8" y1="453.3" x2="1549.8" y2="453.3" stroke-width="5" stroke-linecap="butt"/>
<line x1="1532.3" y1="435.8" x2="1532.3" y2="470.8" stroke-width="5" stroke-linecap="butt"/>
<line x1="1514.8" y1="513.3" x2="1549.8" y2="513.3" stroke-width="5" stroke-linecap="butt"/>
<line x1="1532.3" y1="495.8" x2="1532.3" y2="530.8" stroke-width="5" stroke-linecap="butt"/>
<polyline points="1412.3,453.3 1384.7,453.3 1353,485 1353,651.7 1371.5,669.3" stroke-width="9"/>
<polyline points="1412.3,513.3 1411.3,632.7 1448,669.3" stroke-width="9"/>
<polyline points="1591.7,513.3 1591.7,685 1777.7,871 1831.7,871" stroke-width="12.5"/>
<polyline points="1960.7,569.3 1960.7,740 1831.7,869" stroke-width="12.5"/>
<polyline points="2236.5,400.3 2236.5,502.7 2258.3,524.3 2258.3,761.7" stroke-width="12.2"/>
<polyline points="2076.7,627.3 2258.3,627.3" stroke-width="12.2"/>
<polyline points="2259,761 2383.3,761 2469.7,847.4 2469.7,1060 2458.3,1073.3" stroke-width="12.2"/>
<polyline points="2470,1073 2470,1169.3" stroke-width="12.2"/>
<line x1="2133.5" y1="757.5" x2="2191.5" y2="757.5" stroke-width="5.6" stroke-linecap="butt"/>
<line x1="2162.5" y1="738.5" x2="2162.5" y2="776.5" stroke-width="5.6" stroke-linecap="butt"/>
<polyline points="2052,710 2052,756.7" stroke-width="12"/>
<polyline points="2052,840 2052,871" stroke-width="12"/>
<polyline points="2162.3,840 2162.3,871" stroke-width="12"/>
<polyline points="1831.7,871 2218.3,871 2255,907.7" stroke-width="12.2"/>
<polyline points="2259,908.3 2340,908.3 2382.8,951 2382.8,1354.3 2418.7,1390 2470,1390" stroke-width="12.2"/>
<line x1="506.4" y1="1390" x2="555.2" y2="1390" stroke-width="5" stroke-linecap="butt"/>
<line x1="530.8" y1="1365.6" x2="530.8" y2="1414.4" stroke-width="5" stroke-linecap="butt"/>
<polyline points="543.4,1073.3 560,1055.5 709.6,1055.5 745.6,1091.5 745.6,1367.7 690,1423.3" stroke-width="9.3"/>
<polyline points="625.3,1129.3 625.5,1434.2 739.6,1548.1 752,1548.1 798.3,1594.4 798.3,1600" stroke-width="12.5"/>
<polyline points="531,1240 621,1240" stroke-width="18"/>
<polyline points="531,1316.8 560,1316.8 583.1,1340 583.1,1444.4 738.3,1599.6" stroke-width="12.2"/>
<line x1="678.1" y1="1246.4" x2="701.9" y2="1270.2" stroke-width="5" stroke-linecap="butt"/>
<line x1="678.1" y1="1270.2" x2="701.9" y2="1246.4" stroke-width="5" stroke-linecap="butt"/>
<line x1="678.1" y1="1338.8" x2="701.9" y2="1362.6" stroke-width="5" stroke-linecap="butt"/>
<line x1="678.1" y1="1362.6" x2="701.9" y2="1338.8" stroke-width="5" stroke-linecap="butt"/>
<line x1="916.2" y1="1589" x2="980.4" y2="1589" stroke-width="5" stroke-linecap="butt"/>
<line x1="948.3" y1="1556.9" x2="948.3" y2="1621.1" stroke-width="5" stroke-linecap="butt"/>
<polyline points="837,886.5 1079,886.5 1153.5,961 1166,963.7" stroke-width="10"/>
<polyline points="837.3,928.3 816.7,928.3 789,956 789,981.7" stroke-width="9.3"/>
<polyline points="947.7,928.3 927,928.3 899.3,956 899.3,981.7" stroke-width="9.3"/>
<polyline points="1058.7,928.3 1038,928.3 1009.3,957 1009.3,981.7" stroke-width="9.3"/>
<line x1="556.9" y1="981.7" x2="594.8" y2="981.7" stroke-width="5.6" stroke-linecap="butt"/>
<line x1="575.8" y1="963.5" x2="575.8" y2="999.8" stroke-width="5.6" stroke-linecap="butt"/>
<polyline points="634,981.7 680,981.7" stroke-width="9.3"/>
<polyline points="739.3,981.7 788.3,981.7" stroke-width="9.3"/>
<polyline points="848.3,981.7 899,981.7" stroke-width="9.3"/>
<polyline points="958.3,981.7 1009,981.7" stroke-width="9.3"/>
<polyline points="1069.5,981.7 1094.3,1006.5 1094.3,1100" stroke-width="9.5"/>
<polyline points="1094.3,1095 1094.3,1124 1104,1133.7 1111,1140" stroke-width="7.8"/>
<line x1="1229.6" y1="871.2" x2="1268.1" y2="871.2" stroke-width="5.6" stroke-linecap="butt"/>
<line x1="1248.8" y1="838.8" x2="1248.8" y2="903.6" stroke-width="5.6" stroke-linecap="butt"/>
<line x1="1511" y1="926.5" x2="1548.7" y2="926.5" stroke-width="5.6" stroke-linecap="butt"/>
<line x1="1529.8" y1="893.9" x2="1529.8" y2="959.2" stroke-width="5.6" stroke-linecap="butt"/>
<line x1="1138.6" y1="1037.3" x2="1176.6" y2="1037.3" stroke-width="5.6" stroke-linecap="butt"/>
<line x1="1157.6" y1="1004.5" x2="1157.6" y2="1070.2" stroke-width="5.6" stroke-linecap="butt"/>
<line x1="1267.2" y1="1037.3" x2="1305.2" y2="1037.3" stroke-width="5.6" stroke-linecap="butt"/>
<line x1="1286.2" y1="1004.5" x2="1286.2" y2="1070.2" stroke-width="5.6" stroke-linecap="butt"/>
<polyline points="1165.5,1147.2 1261.8,1147.2 1387.2,1021.8 1387.2,930" stroke-width="9.6"/>
<polyline points="1207,963.5 1258,963.5" stroke-width="9.6"/>
<polyline points="1207.1,965 1207.1,1020" stroke-width="10"/>
<polyline points="1430,926.3 1470,926.3" stroke-width="9.6"/>
<polyline points="1308,890 1308,960" stroke-width="9.6"/>
<polyline points="1372.3,853.3 1354,871.7 1310,871.7" stroke-width="9.3"/>
<polyline points="1449,853.3 1470.7,875 1470.7,910" stroke-width="9.3"/>
<line x1="1356.9" y1="1101.1" x2="1382.3" y2="1126.5" stroke-width="5" stroke-linecap="butt"/>
<line x1="1356.9" y1="1126.5" x2="1382.3" y2="1101.1" stroke-width="5" stroke-linecap="butt"/>
<polyline points="873.5,1258.3 873.5,1077.5 893.5,1057.5 1021.5,1057.5 1041.5,1077.5 1041.5,1112" stroke-width="8.5"/>
<polyline points="1041.3,1114.3 1041.3,1137.6 1070,1166.5 1070,1386.7 1088.5,1405 1112,1405" stroke-width="8.5"/>
<polyline points="1034,1209.3 1070,1209.3" stroke-width="7"/>
<polyline points="947.7,1129 947.7,1198" stroke-width="8.5"/>
<polyline points="961,1209 985,1231.2 985,1251.6 1008,1273" stroke-width="7"/>
<polyline points="947.6,1283 947.6,1294 984.1,1329 984.1,1386" stroke-width="8.5"/>
<polyline points="874,1350.7 948.3,1350.7" stroke-width="8"/>
<polyline points="874,1423.3 948.3,1423.3" stroke-width="8"/>
<polyline points="1114,1225 1183,1225" stroke-width="7"/>
<polyline points="1117.5,1250 1117.5,1290" stroke-width="8"/>
<polyline points="1183.5,1250 1183.5,1290" stroke-width="8"/>
<polyline points="1111.5,1161 1111.5,1218" stroke-width="8"/>
<line x1="2075.3" y1="1141.7" x2="2123.3" y2="1141.7" stroke-width="5.6" stroke-linecap="butt"/>
<line x1="2099.3" y1="1117.8" x2="2099.3" y2="1165.7" stroke-width="5.6" stroke-linecap="butt"/>
<line x1="2281" y1="1178.3" x2="2329" y2="1178.3" stroke-width="5.6" stroke-linecap="butt"/>
<line x1="2305" y1="1154.3" x2="2305" y2="1202.2" stroke-width="5.6" stroke-linecap="butt"/>
<line x1="1667" y1="1215.7" x2="1715.6" y2="1215.7" stroke-width="5.6" stroke-linecap="butt"/>
<line x1="1691.3" y1="1191.4" x2="1691.3" y2="1240" stroke-width="5.6" stroke-linecap="butt"/>
<line x1="1871.4" y1="1215.7" x2="1920" y2="1215.7" stroke-width="5.6" stroke-linecap="butt"/>
<line x1="1895.7" y1="1191.4" x2="1895.7" y2="1240" stroke-width="5.6" stroke-linecap="butt"/>
<line x1="1756.9" y1="1182.5" x2="1795.5" y2="1182.5" stroke-width="5.6" stroke-linecap="butt"/>
<line x1="1776.2" y1="1165.2" x2="1776.2" y2="1199.8" stroke-width="5.6" stroke-linecap="butt"/>
<polyline points="1691.3,1141.7 1776,1141.7" stroke-width="12.5"/>
<polyline points="1776,1141.7 1806.3,1141.7 1833.3,1168.7 1833.3,1242.9 1857,1266.6 1857,1331.7" stroke-width="12.3"/>
<polyline points="1895.7,1141.7 1935.9,1141.7 1979,1184.8 1979,1325" stroke-width="12.2"/>
<polyline points="1979,1325 1979,1331.5 1930,1331.5" stroke-width="4"/>
<line x1="2161.9" y1="1175.5" x2="2200.8" y2="1175.5" stroke-width="5.6" stroke-linecap="butt"/>
<line x1="2181.3" y1="1157.9" x2="2181.3" y2="1193.1" stroke-width="5.6" stroke-linecap="butt"/>
<polyline points="2099.3,1215.7 2181,1215.7" stroke-width="13"/>
<polyline points="2169.3,1215 2169.3,1325" stroke-width="12"/>
<line x1="2249.2" y1="1389.3" x2="2284.2" y2="1389.3" stroke-width="5" stroke-linecap="butt"/>
<line x1="2266.7" y1="1371.8" x2="2266.7" y2="1406.8" stroke-width="5" stroke-linecap="butt"/>
<line x1="2285.4" y1="1389.3" x2="2320" y2="1389.3" stroke-width="5.6" stroke-linecap="butt"/>
<line x1="2302.7" y1="1372" x2="2302.7" y2="1406.6" stroke-width="5.6" stroke-linecap="butt"/>
<polyline points="1850,1338 1839.2,1349 1839.2,1389.3" stroke-width="11.7"/>
<polyline points="1819,1441.8 1869,1441.8 1913.4,1397.4 1913.4,1389.3" stroke-width="12.3"/>
<polyline points="2160,1335 2155,1345 2155,1389.3" stroke-width="11.7"/>
<polyline points="2229,1332 2250,1332 2305,1277 2305,1252.3" stroke-width="12"/>
<polyline points="2229.3,1340 2229.3,1460.3 2190,1499.5 2016,1499.5" stroke-width="12.3"/>
<line x1="1694.7" y1="1401.1" x2="1724.3" y2="1401.1" stroke-width="5.6" stroke-linecap="butt"/>
<line x1="1709.5" y1="1381.4" x2="1709.5" y2="1420.7" stroke-width="5.6" stroke-linecap="butt"/>
<polyline points="1709.5,1442.3 1760,1442.3" stroke-width="12"/>
<polyline points="1710.2,1456 1710.2,1478" stroke-width="6"/>
<polyline points="1753,1450 1753,1475" stroke-width="5"/>
<polyline points="1819,1450 1819,1475" stroke-width="5"/>
<line x1="1740.2" y1="1585.1" x2="1830.6" y2="1585.1" stroke-width="5.6" stroke-linecap="butt"/>
<line x1="1785.4" y1="1534.4" x2="1785.4" y2="1635.8" stroke-width="5.6" stroke-linecap="butt"/>
<line x1="1916.1" y1="1599.6" x2="1959.3" y2="1599.6" stroke-width="5" stroke-linecap="butt"/>
<line x1="1937.7" y1="1578" x2="1937.7" y2="1621.2" stroke-width="5" stroke-linecap="butt"/>
<polyline points="1877.8,1600 1877.5,1487.4 1908.5,1456.8 2010,1456.8" stroke-width="12.3"/>
<polyline points="2016,1395 2016,1452" stroke-width="12"/>
<polyline points="2090,1395 2090,1452" stroke-width="8"/>
<polyline points="1949.7,1389.3 1949.7,1346 2089,1346" stroke-width="11.7"/>
<polygon points="1621.8,1171.7 1604.2,1171.7 1590.8,1185.6 1596,1197 1596,1290 1628,1290 1628,1171.7" stroke="none" fill="#587c8f"/>
<polyline points="1411,1322 1411,1330 1354.5,1330 1334.3,1350 1334.3,1511.6 1356.2,1533.5 1407.8,1533.5 1463.3,1589" stroke-width="5"/>
<polygon points="1427.1,1302.4 1448,1302.4 1454.6,1307.4 1483.6,1307.4 1486.4,1319.6 1483.6,1327.1 1484.5,1349.5 1454.6,1349.5 1445.2,1358 1439.6,1349.5 1426.5,1342.1 1429.3,1329 1425.6,1319.6" stroke="none" fill="#587c8f"/>
<polygon points="1540.6,1221.4 1550.9,1221.4 1550.9,1244.8 1559.3,1254.1 1559.3,1261.6 1510.7,1261.6 1508.8,1254.5 1539.7,1254.5" stroke="none" fill="#587c8f"/>
<polyline points="1463.7,1272 1463.7,1266.7 1494.3,1235.6 1508,1235.6" stroke-width="4.6"/>
<polyline points="1423,1286.8 1459,1286.8" stroke-width="5.6"/>
<polyline points="1507,1258.6 1559,1258.6" stroke-width="5.6"/>
<polyline points="1433.1,1201.7 1493.9,1201.7 1501.3,1208.3 1509.8,1208.3" stroke-width="4"/>
<polyline points="1529.4,1210.2 1563.1,1210.2" stroke-width="4"/>
<polyline points="1454.6,1221.4 1464.5,1221.4" stroke-width="4"/>
<polyline points="1573.4,1244.8 1573.4,1271.9" stroke-width="4.5"/>
<polyline points="1499.5,1336.4 1499.5,1361.7" stroke-width="4.5"/>
<polyline points="1411.5,1242.9 1411.5,1276.6" stroke-width="5"/>
<polyline points="1411.5,1325.2 1411.5,1359.3" stroke-width="5"/>
<polyline points="1519.1,1348.6 1552.8,1314.9 1555,1304.6" stroke-width="5.5"/>
<polygon points="1539.7,1349.5 1566.8,1322.4 1566.8,1329 1561.2,1349.5" stroke="none" fill="#587c8f"/>
<polyline points="1434,1376.1 1458.3,1376.1" stroke-width="5"/>
<line x1="1329.1" y1="1280.3" x2="1366.8" y2="1280.3" stroke-width="5.6" stroke-linecap="butt"/>
<line x1="1347.9" y1="1260.6" x2="1347.9" y2="1300.1" stroke-width="5.6" stroke-linecap="butt"/>
<line x1="1594.8" y1="1276.1" x2="1623.1" y2="1276.1" stroke-width="5.6" stroke-linecap="butt"/>
<line x1="1608.9" y1="1258.7" x2="1608.9" y2="1293.5" stroke-width="5.6" stroke-linecap="butt"/>
<line x1="1638.7" y1="1276.1" x2="1667" y2="1276.1" stroke-width="5.6" stroke-linecap="butt"/>
<line x1="1652.9" y1="1258.7" x2="1652.9" y2="1293.5" stroke-width="5.6" stroke-linecap="butt"/>
<polyline points="1519,1391.7 1519,1433.3" stroke-width="9"/>
<polyline points="1558,1391.7 1558,1433.3" stroke-width="8"/>
<polyline points="1560.7,1442.3 1601.3,1442.3" stroke-width="5"/>
<line x1="1596.5" y1="1480.5" x2="1625.5" y2="1480.5" stroke-width="5.6" stroke-linecap="butt"/>
<line x1="1611" y1="1461.2" x2="1611" y2="1499.8" stroke-width="5.6" stroke-linecap="butt"/>
<polyline points="1469,1442.3 1478,1442.3 1478,1481.7" stroke-width="5"/>
<polyline points="1472.3,1525 1494.7,1526.7" stroke-width="5"/>
<polyline points="1537.3,1530 1537.3,1589" stroke-width="4.7"/>
<line x1="1378" y1="1577" x2="1402" y2="1601" stroke-width="5" stroke-linecap="butt"/>
<line x1="1378" y1="1601" x2="1402" y2="1577" stroke-width="5" stroke-linecap="butt"/>
<line x1="1483.7" y1="1589" x2="1517.7" y2="1589" stroke-width="5" stroke-linecap="butt"/>
<line x1="1500.7" y1="1572" x2="1500.7" y2="1606" stroke-width="5" stroke-linecap="butt"/>
<line x1="1636.3" y1="1577" x2="1660.3" y2="1601" stroke-width="5" stroke-linecap="butt"/>
<line x1="1636.3" y1="1601" x2="1660.3" y2="1577" stroke-width="5" stroke-linecap="butt"/>
</g>
<g fill="none" stroke="#2c5763" stroke-linecap="round" stroke-linejoin="round">
<rect x="825.7" y="900" width="24" height="16" stroke="none" fill="#2c5763"/>
<rect x="935.7" y="900" width="24" height="16" stroke="none" fill="#2c5763"/>
<rect x="1046.5" y="900" width="24" height="16" stroke="none" fill="#2c5763"/>
<rect x="1263.3" y="844.6" width="30.6" height="53.2" stroke="none" fill="#2c5763"/>
<rect x="1483.9" y="899.7" width="31.9" height="53.7" stroke="none" fill="#2c5763"/>
<rect x="1171.8" y="1010.3" width="30.4" height="54.1" stroke="none" fill="#2c5763"/>
<rect x="1300.4" y="1010.3" width="31.1" height="54.1" stroke="none" fill="#2c5763"/>
<rect x="1763" y="1155" width="26.5" height="15" stroke="none" fill="#2c5763"/>
<rect x="2168" y="1188.3" width="26.5" height="15" stroke="none" fill="#2c5763"/>
</g>
<g fill="none" stroke="#587c8f" stroke-linecap="round" stroke-linejoin="round">
</g>
<g fill="#fdf6ee" stroke="#4a4428" stroke-width="1.1">
<circle cx="556" cy="424.3" r="43.3"/>
<circle cx="2445.3" cy="424.3" r="43.3"/>
<circle cx="556" cy="1576" r="43.3"/>
<circle cx="2445.3" cy="1576" r="43.3"/>
<circle cx="1500.7" cy="1089.3" r="43.3"/>
<circle cx="727.3" cy="400.3" r="12.2"/>
<circle cx="764.1" cy="400.3" r="12.2"/>
<rect x="788.3" y="387.8" width="25" height="25"/>
<circle cx="2200.7" cy="400.3" r="12.2"/>
<circle cx="2237.5" cy="400.3" r="12.2"/>
<rect x="2261.7" y="387.8" width="25" height="25"/>
<rect x="707.7" y="653.7" width="68" height="68"/>
<rect x="1135" y="690.3" width="68" height="68"/>
<rect x="1797.7" y="690.3" width="68" height="68"/>
<rect x="2225" y="727.7" width="68" height="68"/>
<polygon points="727,798.8 756.4,798.8 777.2,819.6 777.2,849 756.4,869.8 727,869.8 706.2,849 706.2,819.6"/>
<polygon points="1154.3,836.2 1183.7,836.2 1204.5,857 1204.5,886.4 1183.7,907.2 1154.3,907.2 1133.5,886.4 1133.5,857"/>
<polygon points="1817,835.5 1846.4,835.5 1867.2,856.3 1867.2,885.7 1846.4,906.5 1817,906.5 1796.2,885.7 1796.2,856.3"/>
<polygon points="2244.3,872.8 2273.7,872.8 2294.5,893.6 2294.5,923 2273.7,943.8 2244.3,943.8 2223.5,923 2223.5,893.6"/>
<circle cx="967.1" cy="569.6" r="12.1"/>
<circle cx="1040" cy="569.6" r="12.1"/>
<circle cx="1114.4" cy="569.6" r="12.1"/>
<circle cx="1187.3" cy="569.6" r="12.1"/>
<rect x="1211.3" y="557.4" width="24.4" height="24.4"/>
<circle cx="1886.7" cy="569.3" r="12.1"/>
<circle cx="1961.5" cy="569.3" r="12.1"/>
<circle cx="2034.3" cy="569.3" r="12.1"/>
<circle cx="2108.3" cy="569.3" r="12.1"/>
<rect x="2132.8" y="557.1" width="24.4" height="24.4"/>
<rect x="1181.4" y="433.5" width="10.6" height="21.3"/>
<rect x="1181.4" y="515.4" width="10.6" height="21.2"/>
<rect x="1218.1" y="433.5" width="10.6" height="21.3"/>
<rect x="1218.1" y="515.4" width="10.6" height="21.2"/>
<rect x="2102.7" y="433.5" width="10.6" height="21.3"/>
<rect x="2102.7" y="515.4" width="10.6" height="21.2"/>
<rect x="2139.4" y="433.5" width="10.6" height="21.3"/>
<rect x="2139.4" y="515.4" width="10.6" height="21.2"/>
<rect x="1218" y="380.8" width="20.4" height="23.6"/>
<rect x="1245.2" y="380.8" width="20.8" height="23.6"/>
<rect x="2101.6" y="380.5" width="20.4" height="23.7"/>
<rect x="2129.5" y="380.5" width="20.8" height="23.7"/>
<rect x="1264" y="596.5" width="49.5" height="28.5"/>
<rect x="1264" y="677.3" width="49.5" height="28.7"/>
<rect x="610" y="697.3" width="49" height="28.7"/>
<rect x="610" y="778.3" width="49" height="28.3"/>
<rect x="610" y="821.7" width="49" height="28.3"/>
<rect x="610" y="902.7" width="49" height="29"/>
<circle cx="1412.3" cy="453.3" r="12.7"/>
<circle cx="1472.3" cy="453.3" r="12.7"/>
<circle cx="1532.3" cy="453.3" r="12.7"/>
<circle cx="1592.3" cy="453.3" r="12.7"/>
<circle cx="1412.3" cy="513.3" r="12.7"/>
<circle cx="1472.3" cy="513.3" r="12.7"/>
<circle cx="1532.3" cy="513.3" r="12.7"/>
<circle cx="1592.3" cy="513.3" r="12.7"/>
<circle cx="1371.5" cy="669.3" r="10.7"/>
<circle cx="1449" cy="669.3" r="10.7"/>
<circle cx="1372.3" cy="853.3" r="10.7"/>
<circle cx="1449" cy="853.3" r="10.7"/>
<rect x="2028.3" y="614.3" width="48.3" height="28.3"/>
<rect x="2028.3" y="695" width="48.3" height="28.3"/>
<rect x="2028.3" y="743.3" width="48.3" height="28.3"/>
<rect x="2028.3" y="825" width="48.3" height="28.3"/>
<rect x="2138.3" y="743.3" width="48.3" height="28.3"/>
<rect x="2138.3" y="825" width="48.3" height="28.3"/>
<circle cx="543.4" cy="1073.3" r="26.6"/>
<circle cx="2458.3" cy="1073.3" r="26.6"/>
<rect x="511.7" y="1150.2" width="38.2" height="38.2"/>
<circle cx="530.8" cy="1243.2" r="19.6"/>
<circle cx="530.8" cy="1316.8" r="19.6"/>
<rect x="2450.9" y="1150.2" width="38.2" height="38.2"/>
<circle cx="2470" cy="1243.2" r="19.6"/>
<circle cx="2470" cy="1316.8" r="19.6"/>
<circle cx="530.8" cy="1390" r="19.6"/>
<circle cx="2470" cy="1390" r="19.6"/>
<circle cx="626.3" cy="1129.3" r="12.1"/>
<circle cx="690" cy="1258.3" r="12"/>
<circle cx="690" cy="1350.7" r="12"/>
<circle cx="690" cy="1423.3" r="12"/>
<circle cx="738.3" cy="1600" r="16.8"/>
<circle cx="798.3" cy="1600" r="16.8"/>
<circle cx="948.3" cy="1589" r="27.3"/>
<rect x="823.4" y="875" width="28.6" height="25"/>
<rect x="823.4" y="916" width="28.6" height="24.7"/>
<rect x="933.4" y="875" width="28.6" height="25"/>
<rect x="933.4" y="916" width="28.6" height="24.7"/>
<rect x="1044.2" y="875" width="28.6" height="25"/>
<rect x="1044.2" y="916" width="28.6" height="24.7"/>
<rect x="561.7" y="968.3" width="28.3" height="26.7"/>
<rect x="620.7" y="968.3" width="28.7" height="26.7"/>
<rect x="666.7" y="968.3" width="27.3" height="26.7"/>
<rect x="726" y="968.3" width="28" height="26.7"/>
<rect x="775" y="968.3" width="27.7" height="26.7"/>
<rect x="835" y="968.3" width="27.7" height="26.7"/>
<rect x="885.7" y="968.3" width="27.7" height="26.7"/>
<rect x="945" y="968.3" width="27.7" height="26.7"/>
<rect x="995.7" y="968.3" width="27.7" height="26.7"/>
<rect x="1055.7" y="968.3" width="27.7" height="26.7"/>
<rect x="1153.3" y="949.7" width="26.2" height="28.1"/>
<rect x="1194.8" y="949.7" width="25.9" height="28.1"/>
<rect x="1245.8" y="949.7" width="25.5" height="28.1"/>
<rect x="1286.6" y="949.7" width="26.2" height="28.1"/>
<rect x="1374.4" y="912.3" width="26" height="28.3"/>
<rect x="1415.9" y="912.3" width="25.5" height="28.3"/>
<rect x="1098.1" y="1133" width="26.1" height="28.7"/>
<rect x="1139.5" y="1133" width="26" height="28.7"/>
<rect x="1234.4" y="843.6" width="28.9" height="55.2"/>
<rect x="1293.9" y="843.6" width="28.9" height="55.2"/>
<rect x="1456.3" y="898.7" width="27.6" height="55.7"/>
<rect x="1515.8" y="898.7" width="28.1" height="55.7"/>
<rect x="1143.4" y="1009.3" width="28.4" height="56.1"/>
<rect x="1202.2" y="1009.3" width="28.7" height="56.1"/>
<rect x="1272" y="1009.3" width="28.4" height="56.1"/>
<rect x="1331.5" y="1009.3" width="28.7" height="56.1"/>
<circle cx="1369.6" cy="1113.8" r="13.2"/>
<circle cx="953.6" cy="1129.3" r="12"/>
<circle cx="1041.7" cy="1114.3" r="12"/>
<circle cx="874" cy="1258.3" r="12"/>
<circle cx="874" cy="1350.7" r="12"/>
<circle cx="874" cy="1423.3" r="12"/>
<circle cx="948.3" cy="1350.7" r="9.5"/>
<circle cx="948.3" cy="1423.3" r="9.5"/>
<circle cx="985" cy="1386" r="8.8"/>
<rect x="933.9" y="1195.5" width="27.2" height="27.8"/>
<rect x="933.9" y="1255.5" width="27.2" height="28"/>
<rect x="1007.8" y="1195.5" width="27.2" height="27.8"/>
<rect x="1007.8" y="1255.5" width="27.2" height="28"/>
<rect x="1101.5" y="1215" width="23.4" height="21"/>
<rect x="1101.5" y="1244" width="23.4" height="19.8"/>
<rect x="1174.3" y="1215" width="23.4" height="21"/>
<rect x="1174.3" y="1244" width="23.4" height="19.8"/>
<rect x="1109.1" y="1285.6" width="16.5" height="25.5"/>
<rect x="1174.6" y="1285.6" width="17" height="25.5"/>
<rect x="1110.7" y="1359.3" width="79.3" height="90.7"/>
<rect x="1672.1" y="1122.5" width="38.3" height="38.3"/>
<rect x="1876.5" y="1122.5" width="38.3" height="38.3"/>
<rect x="2080.2" y="1122.5" width="38.3" height="38.3"/>
<rect x="2285.8" y="1159.1" width="38.3" height="38.3"/>
<polygon points="1683.3,1196.4 1699.3,1196.4 1710.6,1207.7 1710.6,1223.7 1699.3,1235 1683.3,1235 1672,1223.7 1672,1207.7"/>
<polygon points="1887.7,1196.4 1903.7,1196.4 1915,1207.7 1915,1223.7 1903.7,1235 1887.7,1235 1876.4,1223.7 1876.4,1207.7"/>
<polygon points="2091.3,1196.4 2107.3,1196.4 2118.6,1207.7 2118.6,1223.7 2107.3,1235 2091.3,1235 2080,1223.7 2080,1207.7"/>
<polygon points="2297,1233 2313,1233 2324.3,1244.3 2324.3,1260.3 2313,1271.6 2297,1271.6 2285.7,1260.3 2285.7,1244.3"/>
<rect x="1761.7" y="1130" width="29" height="25"/>
<rect x="1761.7" y="1170" width="29" height="25"/>
<rect x="2166.7" y="1162.7" width="29.3" height="25.6"/>
<rect x="2166.7" y="1203.3" width="29.3" height="25"/>
<rect x="1842.3" y="1319" width="27.7" height="26"/>
<rect x="1902.3" y="1319" width="28.4" height="26"/>
<rect x="2155.2" y="1318.3" width="28.1" height="26.5"/>
<rect x="2215.1" y="1318.3" width="28.9" height="26.5"/>
<rect x="1745" y="1429" width="28.6" height="26.9"/>
<rect x="1803.7" y="1429" width="28.9" height="26.9"/>
<circle cx="1803" cy="1389.3" r="12.7"/>
<circle cx="1839" cy="1389.3" r="12.7"/>
<circle cx="1875.7" cy="1389.3" r="12.7"/>
<circle cx="1913" cy="1389.3" r="12.7"/>
<rect x="1937.2" y="1376.8" width="25" height="25"/>
<circle cx="2156" cy="1389.3" r="12.7"/>
<circle cx="2192.3" cy="1389.3" r="12.7"/>
<circle cx="2229.3" cy="1389.3" r="12.7"/>
<circle cx="2266.7" cy="1389.3" r="12.7"/>
<rect x="2290.2" y="1376.8" width="25" height="25"/>
<rect x="1699.5" y="1386.2" width="20" height="29.7"/>
<rect x="1699.5" y="1427.5" width="20" height="30.1"/>
<circle cx="1710.2" cy="1478.3" r="6.5"/>
<circle cx="1710.2" cy="1495.3" r="6.5"/>
<rect x="1744.2" y="1466.1" width="16.5" height="26"/>
<rect x="1810.5" y="1466.1" width="16.2" height="26"/>
<rect x="1745" y="1539.2" width="80.8" height="91.8"/>
<circle cx="1878.2" cy="1599.6" r="16.8"/>
<circle cx="1937.7" cy="1599.6" r="16.8"/>
<circle cx="1997.8" cy="1599.6" r="16.8"/>
<circle cx="2203.4" cy="1599.3" r="16.8"/>
<circle cx="2263.6" cy="1599.3" r="16.8"/>
<rect x="2002.7" y="1333.3" width="26.6" height="26"/>
<rect x="2002.7" y="1377.7" width="26.6" height="25.6"/>
<rect x="2002.7" y="1445" width="26.6" height="25"/>
<rect x="2002.7" y="1488.3" width="26.6" height="25"/>
<rect x="2076" y="1333.3" width="26.6" height="26"/>
<rect x="2076" y="1377.7" width="26.6" height="25.6"/>
<rect x="2076" y="1445" width="26.6" height="25"/>
<rect x="2076" y="1488.3" width="26.6" height="25"/>
<circle cx="2090" cy="1412.3" r="5.3"/>
<circle cx="2090" cy="1427.3" r="5.3"/>
<rect x="1333.9" y="1205.5" width="28.1" height="29.9"/>
<rect x="1333.9" y="1265.4" width="28.1" height="29.9"/>
<circle cx="1390.4" cy="1258.2" r="7.5"/>
<rect x="1399.4" y="1199.9" width="22.5" height="15.9"/>
<rect x="1399.4" y="1226.4" width="22.5" height="16.5"/>
<rect x="1431.7" y="1213.5" width="22.3" height="15.9"/>
<circle cx="1464.5" cy="1221.4" r="6.4"/>
<circle cx="1464.5" cy="1177.4" r="6.4"/>
<rect x="1507" y="1197.6" width="23.4" height="21"/>
<rect x="1507" y="1224.6" width="23.4" height="20.2"/>
<rect x="1561.8" y="1197.6" width="23.4" height="21"/>
<rect x="1561.8" y="1224.6" width="23.4" height="20.2"/>
<circle cx="1500.4" cy="1258.2" r="7.1"/>
<rect x="1400.3" y="1276.6" width="23.4" height="19.6"/>
<rect x="1400.3" y="1304.6" width="23.4" height="20.6"/>
<rect x="1458.3" y="1271.5" width="10.9" height="31.3"/>
<rect x="1458.3" y="1360.8" width="10.9" height="31.8"/>
<rect x="1476.5" y="1271.5" width="10.9" height="31.3"/>
<rect x="1476.5" y="1360.8" width="10.9" height="31.8"/>
<rect x="1494.8" y="1271.5" width="10.9" height="31.3"/>
<rect x="1494.8" y="1360.8" width="10.9" height="31.8"/>
<rect x="1513" y="1271.5" width="10.9" height="31.3"/>
<rect x="1513" y="1360.8" width="10.9" height="31.8"/>
<rect x="1531.3" y="1271.5" width="10.9" height="31.3"/>
<rect x="1531.3" y="1360.8" width="10.9" height="31.8"/>
<rect x="1549.5" y="1271.5" width="10.9" height="31.3"/>
<rect x="1549.5" y="1360.8" width="10.9" height="31.8"/>
<rect x="1567.8" y="1271.5" width="10.9" height="31.3"/>
<rect x="1567.8" y="1360.8" width="10.9" height="31.8"/>
<circle cx="1500.4" cy="1331.4" r="6.4"/>
<circle cx="1537.3" cy="1307.4" r="5.8"/>
<circle cx="1574.3" cy="1331.4" r="6.4"/>
<rect x="1361" y="1358.9" width="29.9" height="33.7"/>
<rect x="1404.1" y="1358.9" width="29.9" height="33.7"/>
<rect x="1599.6" y="1263.5" width="18.7" height="25.3"/>
<rect x="1643.5" y="1263.5" width="18.7" height="25.3"/>
<rect x="1513.3" y="1431" width="20" height="23"/>
<rect x="1540.7" y="1431" width="20" height="23"/>
<rect x="1601.3" y="1426" width="19.3" height="29"/>
<rect x="1601.3" y="1466" width="19.3" height="29"/>
<rect x="1420.7" y="1431" width="20" height="23"/>
<rect x="1449" y="1431" width="20" height="23"/>
<circle cx="1410" cy="1442.3" r="6.4"/>
<rect x="1441.7" y="1480" width="16.3" height="21.7"/>
<rect x="1469" y="1480" width="16" height="21.7"/>
<rect x="1455.7" y="1512.3" width="16.7" height="21"/>
<rect x="1494.7" y="1515" width="19.3" height="23.3"/>
<rect x="1522.3" y="1515" width="20" height="23.3"/>
<rect x="1340" y="1576.8" width="24.5" height="24.5"/>
<circle cx="1390" cy="1589" r="12.2"/>
<rect x="1451" y="1576.8" width="24.5" height="24.5"/>
<circle cx="1500.7" cy="1589" r="12.2"/>
<circle cx="1537.3" cy="1589" r="12.2"/>
<rect x="1599" y="1576.8" width="24.5" height="24.5"/>
<circle cx="1648.3" cy="1589" r="12.2"/>
</g>
<g fill="#262626">
<circle cx="556" cy="424.3" r="25.3"/>
<circle cx="2445.3" cy="424.3" r="25.3"/>
<circle cx="556" cy="1576" r="25.3"/>
<circle cx="2445.3" cy="1576" r="25.3"/>
<circle cx="1500.7" cy="1089.3" r="25.3"/>
<circle cx="727.3" cy="400.3" r="7.5"/>
<circle cx="764.1" cy="400.3" r="7.5"/>
<circle cx="800.8" cy="400.3" r="7.5"/>
<circle cx="2200.7" cy="400.3" r="7.5"/>
<circle cx="2237.5" cy="400.3" r="7.5"/>
<circle cx="2274.2" cy="400.3" r="7.5"/>
<circle cx="741.7" cy="687.7" r="15.3"/>
<circle cx="1169" cy="724.3" r="15.3"/>
<circle cx="1831.7" cy="724.3" r="15.3"/>
<circle cx="2259" cy="761.7" r="15.3"/>
<circle cx="741.7" cy="834.3" r="15.3"/>
<circle cx="1169" cy="871.7" r="15.3"/>
<circle cx="1831.7" cy="871" r="15.3"/>
<circle cx="2259" cy="908.3" r="15.3"/>
<circle cx="967.1" cy="569.6" r="7.6"/>
<circle cx="1040" cy="569.6" r="7.6"/>
<circle cx="1114.4" cy="569.6" r="7.6"/>
<circle cx="1187.3" cy="569.6" r="7.6"/>
<circle cx="1223.5" cy="569.6" r="7.6"/>
<circle cx="1886.7" cy="569.3" r="7.6"/>
<circle cx="1961.5" cy="569.3" r="7.6"/>
<circle cx="2034.3" cy="569.3" r="7.6"/>
<circle cx="2108.3" cy="569.3" r="7.6"/>
<circle cx="2145" cy="569.3" r="7.6"/>
<circle cx="1412.3" cy="453.3" r="8.3"/>
<circle cx="1472.3" cy="453.3" r="8.3"/>
<circle cx="1532.3" cy="453.3" r="8.3"/>
<circle cx="1592.3" cy="453.3" r="8.3"/>
<circle cx="1412.3" cy="513.3" r="8.3"/>
<circle cx="1472.3" cy="513.3" r="8.3"/>
<circle cx="1532.3" cy="513.3" r="8.3"/>
<circle cx="1592.3" cy="513.3" r="8.3"/>
<circle cx="1656.3" cy="512.7" r="24"/>
<circle cx="1371.5" cy="669.3" r="6.7"/>
<circle cx="1449" cy="669.3" r="6.7"/>
<circle cx="1372.3" cy="853.3" r="6.7"/>
<circle cx="1449" cy="853.3" r="6.7"/>
<circle cx="543.4" cy="1073.3" r="14.5"/>
<circle cx="2458.3" cy="1073.3" r="14.5"/>
<circle cx="530.8" cy="1169.3" r="10.6"/>
<circle cx="530.8" cy="1243.2" r="10.6"/>
<circle cx="530.8" cy="1316.8" r="10.6"/>
<circle cx="2470" cy="1169.3" r="10.6"/>
<circle cx="2470" cy="1243.2" r="10.6"/>
<circle cx="2470" cy="1316.8" r="10.6"/>
<circle cx="530.8" cy="1390" r="10.6"/>
<circle cx="2470" cy="1390" r="10.6"/>
<circle cx="626.3" cy="1129.3" r="7.7"/>
<circle cx="690" cy="1258.3" r="7"/>
<circle cx="690" cy="1350.7" r="7"/>
<circle cx="690" cy="1423.3" r="7"/>
<circle cx="673.3" cy="1600" r="22.7"/>
<circle cx="738.3" cy="1600" r="10.6"/>
<circle cx="798.3" cy="1600" r="10.6"/>
<circle cx="948.3" cy="1589" r="14.3"/>
<circle cx="1369.6" cy="1113.8" r="7.2"/>
<circle cx="953.6" cy="1129.3" r="7.3"/>
<circle cx="1041.7" cy="1114.3" r="7.3"/>
<circle cx="874" cy="1258.3" r="7.3"/>
<circle cx="874" cy="1350.7" r="7.3"/>
<circle cx="874" cy="1423.3" r="7.3"/>
<circle cx="948.3" cy="1350.7" r="4.6"/>
<circle cx="948.3" cy="1423.3" r="4.6"/>
<circle cx="985" cy="1386" r="4.3"/>
<circle cx="1132.7" cy="1386.7" r="3.3"/>
<circle cx="1132.7" cy="1405" r="3.3"/>
<circle cx="1132.7" cy="1423.3" r="3.3"/>
<circle cx="1151.3" cy="1386.7" r="3.3"/>
<circle cx="1151.3" cy="1405" r="3.3"/>
<circle cx="1151.3" cy="1423.3" r="3.3"/>
<circle cx="1169.9" cy="1386.7" r="3.3"/>
<circle cx="1169.9" cy="1405" r="3.3"/>
<circle cx="1169.9" cy="1423.3" r="3.3"/>
<circle cx="1691.3" cy="1141.7" r="7.3"/>
<circle cx="1895.7" cy="1141.7" r="7.3"/>
<circle cx="2099.3" cy="1141.7" r="7.3"/>
<circle cx="2305" cy="1178.3" r="7.3"/>
<circle cx="1691.3" cy="1215.7" r="7.3"/>
<circle cx="1895.7" cy="1215.7" r="7.3"/>
<circle cx="2099.3" cy="1215.7" r="7.3"/>
<circle cx="2305" cy="1252.3" r="7.3"/>
<circle cx="1803" cy="1389.3" r="8"/>
<circle cx="1839" cy="1389.3" r="8"/>
<circle cx="1875.7" cy="1389.3" r="8"/>
<circle cx="1913" cy="1389.3" r="8"/>
<circle cx="1949.7" cy="1389.3" r="8"/>
<circle cx="2156" cy="1389.3" r="8"/>
<circle cx="2192.3" cy="1389.3" r="8"/>
<circle cx="2229.3" cy="1389.3" r="8"/>
<circle cx="2266.7" cy="1389.3" r="8"/>
<circle cx="2302.7" cy="1389.3" r="8"/>
<circle cx="1710.2" cy="1478.3" r="3.7"/>
<circle cx="1710.2" cy="1495.3" r="3.7"/>
<circle cx="1767.5" cy="1552.5" r="3.3"/>
<circle cx="1767.5" cy="1570.9" r="3.3"/>
<circle cx="1767.5" cy="1589.3" r="3.3"/>
<circle cx="1786.1" cy="1552.5" r="3.3"/>
<circle cx="1786.1" cy="1570.9" r="3.3"/>
<circle cx="1786.1" cy="1589.3" r="3.3"/>
<circle cx="1804.7" cy="1552.5" r="3.3"/>
<circle cx="1804.7" cy="1570.9" r="3.3"/>
<circle cx="1804.7" cy="1589.3" r="3.3"/>
<circle cx="1878.2" cy="1599.6" r="10.6"/>
<circle cx="1937.7" cy="1599.6" r="10.6"/>
<circle cx="1997.8" cy="1599.6" r="10.6"/>
<circle cx="2062.3" cy="1600" r="22.7"/>
<circle cx="2203.4" cy="1599.3" r="10.6"/>
<circle cx="2263.6" cy="1599.3" r="10.6"/>
<circle cx="2327.7" cy="1600" r="22.7"/>
<circle cx="2090" cy="1412.3" r="2.6"/>
<circle cx="2090" cy="1427.3" r="2.6"/>
<circle cx="1390.4" cy="1258.2" r="3.7"/>
<circle cx="1464.5" cy="1221.4" r="3.4"/>
<circle cx="1464.5" cy="1177.4" r="3.4"/>
<circle cx="1500.4" cy="1258.2" r="3.4"/>
<circle cx="1500.4" cy="1331.4" r="3.2"/>
<circle cx="1537.3" cy="1307.4" r="3"/>
<circle cx="1574.3" cy="1331.4" r="3.2"/>
<circle cx="1410" cy="1442.3" r="3.3"/>
<circle cx="1352.3" cy="1589" r="7.4"/>
<circle cx="1390" cy="1589" r="7.4"/>
<circle cx="1463.3" cy="1589" r="7.4"/>
<circle cx="1500.7" cy="1589" r="7.4"/>
<circle cx="1537.3" cy="1589" r="7.4"/>
<circle cx="1611.3" cy="1589" r="7.4"/>
<circle cx="1648.3" cy="1589" r="7.4"/>
</g>
<g fill="none" stroke="#f8f9f9" stroke-linecap="round" stroke-linejoin="round">
<rect x="1174.6" y="457" width="59.9" height="55.2" stroke-width="3.4"/>
<polyline points="1174.6,464.6 1234.5,464.6" stroke-width="3.2" stroke-linecap="butt"/>
<circle cx="1226" cy="471.2" r="4.6" fill="#f8f9f9" stroke="none"/>
<rect x="2095.9" y="457" width="59.9" height="55.2" stroke-width="3.4"/>
<polyline points="2095.9,464.6 2155.8,464.6" stroke-width="3.2" stroke-linecap="butt"/>
<circle cx="2147.3" cy="471.2" r="4.6" fill="#f8f9f9" stroke="none"/>
<polyline points="1264.5,625 1264.5,677" stroke-width="1.6"/>
<polyline points="1313,625 1313,677" stroke-width="1.6"/>
<polyline points="610.3,726 610.3,778.3" stroke-width="1.6"/>
<polyline points="658.7,726 658.7,778.3" stroke-width="1.6"/>
<polyline points="610.3,850.7 610.3,902.7" stroke-width="1.6"/>
<polyline points="658.7,850.7 658.7,902.7" stroke-width="1.6"/>
<polyline points="2028.7,642.7 2028.7,695" stroke-width="1.6"/>
<polyline points="2028.7,771.7 2028.7,825" stroke-width="1.6"/>
<polyline points="2076.3,642.7 2076.3,695" stroke-width="1.6"/>
<polyline points="2076.3,771.7 2076.3,825" stroke-width="1.6"/>
<polyline points="2138.7,771.7 2138.7,825" stroke-width="1.6"/>
<polyline points="2186.3,771.7 2186.3,825" stroke-width="1.6"/>
<polyline points="825.4,900 825.4,916" stroke-width="1.6"/>
<polyline points="850,900 850,916" stroke-width="1.6"/>
<polyline points="935.4,900 935.4,916" stroke-width="1.6"/>
<polyline points="960,900 960,916" stroke-width="1.6"/>
<polyline points="1046.2,900 1046.2,916" stroke-width="1.6"/>
<polyline points="1070.8,900 1070.8,916" stroke-width="1.6"/>
<polyline points="561.7,959.3 648.3,959.3" stroke-width="1.4"/>
<polyline points="561.7,1003.7 648.3,1003.7" stroke-width="1.4"/>
<polyline points="603.3,971.3 603.3,992 613,981.7 603.3,971.3" stroke-width="3.2" stroke-linecap="butt"/>
<polyline points="618.3,966.3 618.3,996.7" stroke-width="4.6" stroke-linecap="butt"/>
<circle cx="656.7" cy="981.7" r="3.4" fill="#f8f9f9" stroke="none"/>
<polyline points="666.7,959.3 753,959.3" stroke-width="1.4"/>
<polyline points="666.7,1003.7 753,1003.7" stroke-width="1.4"/>
<polyline points="707.3,971.3 707.3,992 717,981.7 707.3,971.3" stroke-width="3.2" stroke-linecap="butt"/>
<polyline points="722.3,966.3 722.3,996.7" stroke-width="4.6" stroke-linecap="butt"/>
<circle cx="761.3" cy="981.7" r="3.4" fill="#f8f9f9" stroke="none"/>
<polyline points="775,959.3 861.7,959.3" stroke-width="1.4"/>
<polyline points="775,1003.7 861.7,1003.7" stroke-width="1.4"/>
<polyline points="816,971.3 816,992 825.7,981.7 816,971.3" stroke-width="3.2" stroke-linecap="butt"/>
<polyline points="831,966.3 831,996.7" stroke-width="4.6" stroke-linecap="butt"/>
<circle cx="870" cy="981.7" r="3.4" fill="#f8f9f9" stroke="none"/>
<polyline points="885.7,959.3 971.7,959.3" stroke-width="1.4"/>
<polyline points="885.7,1003.7 971.7,1003.7" stroke-width="1.4"/>
<polyline points="926.7,971.3 926.7,992 936.3,981.7 926.7,971.3" stroke-width="3.2" stroke-linecap="butt"/>
<polyline points="941.7,966.3 941.7,996.7" stroke-width="4.6" stroke-linecap="butt"/>
<circle cx="980" cy="981.7" r="3.4" fill="#f8f9f9" stroke="none"/>
<polyline points="995.7,959.3 1082.3,959.3" stroke-width="1.4"/>
<polyline points="995.7,1003.7 1082.3,1003.7" stroke-width="1.4"/>
<polyline points="1036.7,971.3 1036.7,992 1046.3,981.7 1036.7,971.3" stroke-width="3.2" stroke-linecap="butt"/>
<polyline points="1051.7,966.3 1051.7,996.7" stroke-width="4.6" stroke-linecap="butt"/>
<circle cx="1090.7" cy="981.7" r="3.4" fill="#f8f9f9" stroke="none"/>
<polyline points="1181,950.2 1193.3,950.2" stroke-width="1.3"/>
<polyline points="1181,977.3 1193.3,977.3" stroke-width="1.3"/>
<polyline points="1272.8,950.2 1285.1,950.2" stroke-width="1.3"/>
<polyline points="1272.8,977.3 1285.1,977.3" stroke-width="1.3"/>
<polyline points="1401.9,912.8 1414.4,912.8" stroke-width="1.3"/>
<polyline points="1401.9,940.1 1414.4,940.1" stroke-width="1.3"/>
<polyline points="1125.7,1133.5 1138,1133.5" stroke-width="1.3"/>
<polyline points="1125.7,1161.2 1138,1161.2" stroke-width="1.3"/>
<polyline points="1264.3,845.1 1292.9,845.1" stroke-width="1.6"/>
<polyline points="1264.3,897.3 1292.9,897.3" stroke-width="1.6"/>
<polyline points="1484.9,900.2 1514.8,900.2" stroke-width="1.6"/>
<polyline points="1484.9,952.9 1514.8,952.9" stroke-width="1.6"/>
<polyline points="1172.8,1010.8 1201.2,1010.8" stroke-width="1.6"/>
<polyline points="1172.8,1063.9 1201.2,1063.9" stroke-width="1.6"/>
<polyline points="1301.4,1010.8 1330.5,1010.8" stroke-width="1.6"/>
<polyline points="1301.4,1063.9 1330.5,1063.9" stroke-width="1.6"/>
<polyline points="924.9,1196 924.9,1281.5" stroke-width="1.4"/>
<polyline points="968.9,1196 968.9,1281.5" stroke-width="1.4"/>
<polyline points="931.9,1227 962.9,1227" stroke-width="4" stroke-linecap="butt"/>
<polyline points="937.4,1243 958.4,1243 947.9,1232.5 937.4,1243" stroke-width="3"/>
<circle cx="947.4" cy="1187.7" r="3.3" fill="#f8f9f9" stroke="none"/>
<polyline points="998.8,1196 998.8,1281.5" stroke-width="1.4"/>
<polyline points="1042.8,1196 1042.8,1281.5" stroke-width="1.4"/>
<polyline points="1005.8,1227 1036.8,1227" stroke-width="4" stroke-linecap="butt"/>
<polyline points="1011.3,1243 1032.3,1243 1021.8,1232.5 1011.3,1243" stroke-width="3"/>
<circle cx="1021.3" cy="1187.7" r="3.3" fill="#f8f9f9" stroke="none"/>
<polyline points="1102,1238 1102,1242" stroke-width="1.2"/>
<polyline points="1124.4,1238 1124.4,1242" stroke-width="1.2"/>
<polyline points="1174.8,1238 1174.8,1242" stroke-width="1.2"/>
<polyline points="1197.2,1238 1197.2,1242" stroke-width="1.2"/>
<rect x="1143.7" y="1323.8" width="13.1" height="12.7" stroke-width="0.1" fill="#f8f9f9"/>
<polyline points="1101.6,1424 1101.6,1336.8 1197.4,1336.8 1197.4,1424" stroke-width="2.5"/>
<polyline points="1763.5,1156 1763.5,1169" stroke-width="1.3"/>
<polyline points="1789,1156 1789,1169" stroke-width="1.3"/>
<polyline points="2168.5,1189 2168.5,1202.5" stroke-width="1.3"/>
<polyline points="2194,1189 2194,1202.5" stroke-width="1.3"/>
<polyline points="1843.3,1309 1929.7,1309" stroke-width="1.4"/>
<polyline points="1843.3,1354 1929.7,1354" stroke-width="1.4"/>
<polyline points="1881.7,1321.5 1881.7,1342.5 1894.7,1332 1881.7,1321.5" stroke-width="3.4" stroke-linecap="butt"/>
<polyline points="1898.2,1319.5 1898.2,1345" stroke-width="4.4" stroke-linecap="butt"/>
<circle cx="1937.3" cy="1331.7" r="3.6" fill="#f8f9f9" stroke="none"/>
<polyline points="2156.2,1308.3 2243,1308.3" stroke-width="1.4"/>
<polyline points="2156.2,1353.8 2243,1353.8" stroke-width="1.4"/>
<polyline points="2203.7,1321 2203.7,1342 2190.7,1331.5 2203.7,1321" stroke-width="3.4" stroke-linecap="butt"/>
<polyline points="2187.2,1319 2187.2,1344.5" stroke-width="4.4" stroke-linecap="butt"/>
<circle cx="2147.7" cy="1331.7" r="3.6" fill="#f8f9f9" stroke="none"/>
<polyline points="1746,1419 1831.6,1419" stroke-width="1.4"/>
<polyline points="1746,1464.9 1831.6,1464.9" stroke-width="1.4"/>
<polyline points="1784.2,1432 1784.2,1453 1797.2,1442.5 1784.2,1432" stroke-width="3.4" stroke-linecap="butt"/>
<polyline points="1800.7,1430 1800.7,1455.5" stroke-width="4.4" stroke-linecap="butt"/>
<circle cx="1839.9" cy="1441.4" r="3.6" fill="#f8f9f9" stroke="none"/>
<rect x="1779" y="1504.4" width="12.8" height="12.1" stroke-width="0.1" fill="#f8f9f9"/>
<polyline points="1737,1603.5 1737,1517.3 1832.6,1517.3 1832.6,1603.5" stroke-width="2.5"/>
<polyline points="1995.2,1333.3 1995.2,1402.3" stroke-width="1.4"/>
<polyline points="2035.7,1333.3 2035.7,1402.3" stroke-width="1.4"/>
<polyline points="2005.7,1363.8 2026.7,1363.8" stroke-width="2.6"/>
<polyline points="2009.7,1371.3 2022.7,1371.3 2016.2,1365.8 2009.7,1371.3" stroke-width="2.4"/>
<circle cx="2015.2" cy="1327.7" r="3.3" fill="#f8f9f9" stroke="none"/>
<polyline points="1995.2,1445 1995.2,1512.3" stroke-width="1.4"/>
<polyline points="2035.7,1445 2035.7,1512.3" stroke-width="1.4"/>
<polyline points="2005.7,1474.5 2026.7,1474.5" stroke-width="2.6"/>
<polyline points="2009.7,1482 2022.7,1482 2016.2,1476.5 2009.7,1482" stroke-width="2.4"/>
<circle cx="2015.2" cy="1439.4" r="3.3" fill="#f8f9f9" stroke="none"/>
<polyline points="2068.5,1333.3 2068.5,1402.3" stroke-width="1.4"/>
<polyline points="2109,1333.3 2109,1402.3" stroke-width="1.4"/>
<polyline points="2079,1363.8 2100,1363.8" stroke-width="2.6"/>
<polyline points="2083,1371.3 2096,1371.3 2089.5,1365.8 2083,1371.3" stroke-width="2.4"/>
<circle cx="2088.5" cy="1327.7" r="3.3" fill="#f8f9f9" stroke="none"/>
<polyline points="2068.5,1445 2068.5,1512.3" stroke-width="1.4"/>
<polyline points="2109,1445 2109,1512.3" stroke-width="1.4"/>
<polyline points="2079,1474.5 2100,1474.5" stroke-width="2.6"/>
<polyline points="2083,1482 2096,1482 2089.5,1476.5 2083,1482" stroke-width="2.4"/>
<circle cx="2088.5" cy="1439.4" r="3.3" fill="#f8f9f9" stroke="none"/>
<polyline points="1324.5,1207.4 1324.5,1292.5" stroke-width="1.4"/>
<polyline points="1369.4,1207.4 1369.4,1292.5" stroke-width="1.4"/>
<polyline points="1332.6,1238.6 1362.5,1238.6" stroke-width="3.6" stroke-linecap="butt"/>
<polyline points="1335.8,1253.4 1357.1,1253.4 1346.4,1242.9 1335.8,1253.4" stroke-width="3"/>
<circle cx="1347" cy="1198.6" r="3.4" fill="#f8f9f9" stroke="none"/>
<polyline points="1423.1,1199.9 1431.7,1199.9 1431.7,1243.5 1423.1,1243.5 1423.1,1199.9" stroke-width="2"/>
<rect x="1452.7" y="1303.7" width="131" height="55.2" rx="4" stroke-width="2"/>
<polyline points="1453.6,1353.3 1582.7,1353.3" stroke-width="1.3"/>
<path d="M1453.1 1325.8 a5.6 5.6 0 0 1 0 11.2" stroke-width="1.8"/>
<rect x="1621.1" y="1269.1" width="18.7" height="15" stroke-width="0.1" fill="#f8f9f9"/>
<polyline points="1440,1502.7 1486.3,1502.7 1486.3,1512.3 1440,1512.3 1440,1502.7" stroke-width="2"/>
</g>
<g fill="#f8f9f9" stroke="#f8f9f9" stroke-width="0.9" font-family="'DejaVu Sans Light', 'DejaVu Sans', 'Liberation Sans', sans-serif" font-weight="200">
<text x="1155.9" y="495.4" font-size="24.5" text-anchor="middle">U6</text>
<text x="2077.2" y="495.4" font-size="24.5" text-anchor="middle">U5</text>
<text x="1244.5" y="377.9" font-size="24.5" text-anchor="middle">R2</text>
<text x="2124" y="377.9" font-size="24.5" text-anchor="middle">R1</text>
<text x="1327" y="642.9" font-size="24.5" text-anchor="middle" transform="rotate(-90 1327 634)">R28</text>
<text x="598.3" y="776.3" font-size="24.5" text-anchor="middle" transform="rotate(-90 598.3 767.3)">R30</text>
<text x="598.3" y="900.6" font-size="24.5" text-anchor="middle" transform="rotate(-90 598.3 891.7)">R31</text>
<text x="2015" y="692.3" font-size="24.5" text-anchor="middle" transform="rotate(-90 2015 683.3)">R32</text>
<text x="2015" y="820.6" font-size="24.5" text-anchor="middle" transform="rotate(-90 2015 811.7)">R33</text>
<text x="2126" y="820.6" font-size="24.5" text-anchor="middle" transform="rotate(-90 2126 811.7)">R29</text>
<text x="809.3" y="912.3" font-size="24.5" text-anchor="middle" transform="rotate(-90 809.3 903.3)">R15</text>
<text x="920" y="912.3" font-size="24.5" text-anchor="middle" transform="rotate(-90 920 903.3)">R14</text>
<text x="1030" y="912.3" font-size="24.5" text-anchor="middle" transform="rotate(-90 1030 903.3)">R13</text>
<text x="610" y="1027.9" font-size="24.5" text-anchor="middle">D9</text>
<text x="707.3" y="1027.9" font-size="24.5" text-anchor="middle">D10</text>
<text x="815" y="1027.9" font-size="24.5" text-anchor="middle">D11</text>
<text x="926.7" y="1027.9" font-size="24.5" text-anchor="middle">D12</text>
<text x="1036.7" y="1027.9" font-size="24.5" text-anchor="middle">D13</text>
<text x="1189.7" y="944.4" font-size="24.5" text-anchor="middle">R11</text>
<text x="1282" y="944.4" font-size="24.5" text-anchor="middle">R12</text>
<text x="1410.6" y="907.4" font-size="24.5" text-anchor="middle">R10</text>
<text x="1126.3" y="1128.9" font-size="24.5" text-anchor="middle">R9</text>
<text x="1279.8" y="916.1" font-size="19.5" text-anchor="middle">C14</text>
<text x="1497.7" y="972.1" font-size="19.5" text-anchor="middle">C12</text>
<text x="1188" y="1082.1" font-size="19.5" text-anchor="middle">C13</text>
<text x="1316.6" y="1082.1" font-size="19.5" text-anchor="middle">C11</text>
<text x="912.4" y="1243.9" font-size="24.5" text-anchor="middle" transform="rotate(-90 912.4 1235)">D14</text>
<text x="985.9" y="1243.9" font-size="24.5" text-anchor="middle" transform="rotate(-90 985.9 1235)">D15</text>
<text x="1084.5" y="1243.5" font-size="24.5" text-anchor="middle" transform="rotate(-90 1084.5 1234.6)">R8</text>
<text x="1213.7" y="1252.8" font-size="24.5" text-anchor="middle" transform="rotate(-90 1213.7 1243.9)">R7</text>
<text x="1149.1" y="1312.3" font-size="24.5" text-anchor="middle">U7</text>
<text x="1803.5" y="1164.6" font-size="24.5" text-anchor="middle" transform="rotate(-90 1803.5 1155.7)">C9</text>
<text x="2208.5" y="1205.9" font-size="24.5" text-anchor="middle" transform="rotate(-90 2208.5 1197)">C10</text>
<text x="1884" y="1303.3" font-size="24.5" text-anchor="middle">D7</text>
<text x="2195" y="1303.6" font-size="24.5" text-anchor="middle">D8</text>
<text x="1769.2" y="1416" font-size="24.5" text-anchor="middle">D16</text>
<text x="1709" y="1363.9" font-size="24.5" text-anchor="middle" transform="rotate(-90 1709 1355)">C19</text>
<text x="1849.1" y="1538.3" font-size="24.5" text-anchor="middle" transform="rotate(-90 1849.1 1529.4)">IC1</text>
<text x="1983.2" y="1389.4" font-size="24.5" text-anchor="middle" transform="rotate(-90 1983.2 1380.5)">D3</text>
<text x="1983.2" y="1500.1" font-size="24.5" text-anchor="middle" transform="rotate(-90 1983.2 1491.2)">D5</text>
<text x="2056.5" y="1389.4" font-size="24.5" text-anchor="middle" transform="rotate(-90 2056.5 1380.5)">D4</text>
<text x="2056.5" y="1500.1" font-size="24.5" text-anchor="middle" transform="rotate(-90 2056.5 1491.2)">D6</text>
<text x="1314.3" y="1256.5" font-size="24.5" text-anchor="middle" transform="rotate(-90 1314.3 1247.6)">D17</text>
<text x="1420.9" y="1189.2" font-size="24.5" text-anchor="middle">Q4</text>
<text x="1510.3" y="1189.2" font-size="24.5" text-anchor="middle">R25</text>
<text x="1582.2" y="1189.2" font-size="24.5" text-anchor="middle">R24</text>
<text x="1385.4" y="1305.2" font-size="24.5" text-anchor="middle" transform="rotate(-90 1385.4 1296.2)">R22</text>
<text x="1600.5" y="1341.6" font-size="24.5" text-anchor="middle" transform="rotate(-90 1600.5 1332.7)">U8</text>
<text x="1379.7" y="1417.6" font-size="24.5" text-anchor="middle">C17</text>
<text x="1649.1" y="1316.4" font-size="24.5" text-anchor="middle">L1</text>
<text x="1536" y="1474.7" font-size="24.5" text-anchor="middle">R23</text>
<text x="1582.7" y="1470.9" font-size="24.5" text-anchor="middle" transform="rotate(-90 1582.7 1462)">C18</text>
<text x="1444.3" y="1474.7" font-size="24.5" text-anchor="middle">R26</text>
<text x="1413.8" y="1516.8" font-size="24.5" text-anchor="middle">Q3</text>
<text x="1522.3" y="1511.2" font-size="24.5" text-anchor="middle">R27</text>
</g>
</g>
</svg>
</body></html>
